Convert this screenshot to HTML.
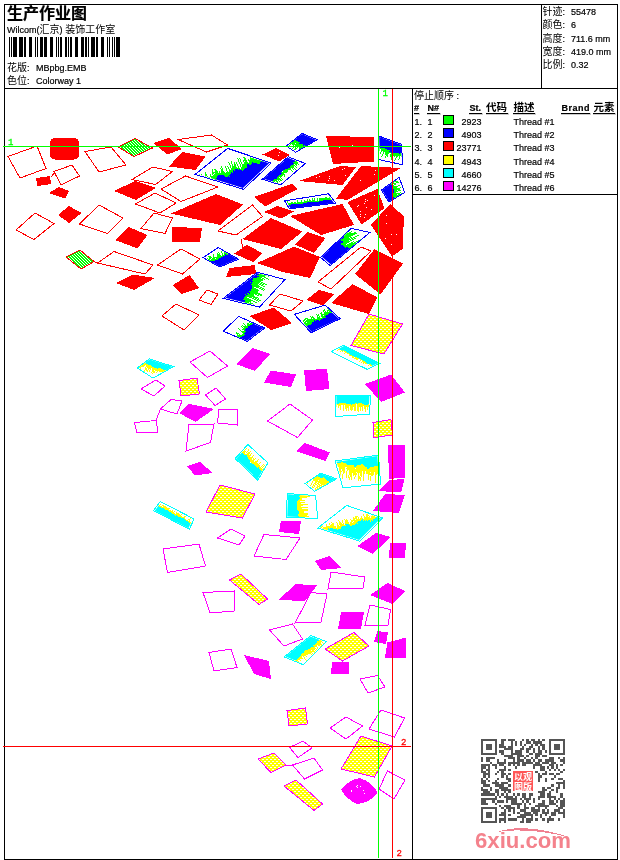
<!DOCTYPE html>
<html lang="zh"><head><meta charset="utf-8"><title>生产作业图</title>
<style>
html,body{margin:0;padding:0;background:#fff}
body{width:620px;height:860px;position:relative;overflow:hidden}
.ln{position:absolute;background:#000}
svg{position:absolute;left:0;top:0;will-change:transform}
svg text{white-space:pre}
</style></head><body>
<div class="ln" style="left:4px;top:4px;width:614px;height:1px"></div>
<div class="ln" style="left:4px;top:859px;width:614px;height:1px"></div>
<div class="ln" style="left:4px;top:4px;width:1px;height:856px"></div>
<div class="ln" style="left:617px;top:4px;width:1px;height:856px"></div>
<div class="ln" style="left:4px;top:88px;width:614px;height:1px"></div>
<div class="ln" style="left:412px;top:88px;width:1px;height:771px"></div>
<div class="ln" style="left:541px;top:4px;width:1px;height:85px"></div>
<div class="ln" style="left:412px;top:194px;width:206px;height:1px"></div>
<svg width="620" height="860" viewBox="0 0 620 860" shape-rendering="crispEdges">
<defs><pattern id="hy" width="4" height="4" patternUnits="userSpaceOnUse"><rect width="4" height="4" fill="#ffff00"/><rect x="0" y="1" width="2" height="1" fill="#fff"/><rect x="2" y="3" width="2" height="1" fill="#fff"/></pattern><pattern id="hg" width="3" height="3" patternUnits="userSpaceOnUse"><rect width="3" height="3" fill="#00ff00"/><rect x="0" y="0" width="1" height="1" fill="#fff"/><rect x="1" y="1" width="1" height="1" fill="#fff"/><rect x="2" y="2" width="1" height="1" fill="#fff"/></pattern></defs>
<polygon points="36,178 50,176 51,184 37.5,186" fill="#ff0000"/>
<polygon points="49,193 59,187 69,191 65,198.5" fill="#ff0000"/>
<polygon points="58,215 69,206 81.5,213 69,223" fill="#ff0000"/>
<polygon points="114,191 135,181 156,188 136,200" fill="#ff0000"/>
<polygon points="115,240 129,227 147.5,235 137.5,248.5" fill="#ff0000"/>
<polygon points="116,283 132.5,274.5 155,278 134,290" fill="#ff0000"/>
<polygon points="153,143 169,138 182,149 167.5,154.5" fill="#ff0000"/>
<polygon points="169,166.5 182,152 205.5,156.5 195.5,170" fill="#ff0000"/>
<polygon points="171,213.5 216,194 243,204.5 220,225" fill="#ff0000"/>
<polygon points="172.5,227 202,228 200,242 172,241.5" fill="#ff0000"/>
<polygon points="254,197 292.5,183.5 297.5,189 265,206.5" fill="#ff0000"/>
<polygon points="264,212 277.5,206 294,211.5 281,218.5" fill="#ff0000"/>
<polygon points="242.5,239 271,218 302.5,231.5 281,249" fill="#ff0000"/>
<polygon points="234,253.5 247.5,245 262,253 253,262" fill="#ff0000"/>
<polygon points="226,277 229.5,268 255,265 256,274" fill="#ff0000"/>
<polygon points="173,285 189.5,275 199,288 181,294" fill="#ff0000"/>
<polygon points="257,263 294,246.5 320,257 310,278 281,271.5" fill="#ff0000"/>
<polygon points="262.5,154.5 276,148 290,155 279,161.5" fill="#ff0000"/>
<polygon points="326,136 374,137 374.5,161.5 333,164" fill="#ff0000"/>
<polygon points="299,181 340,166 356,167 342.5,185" fill="#ff0000"/>
<polygon points="336,198.5 361,166 401,168 347.5,200" fill="#ff0000"/>
<polygon points="290,216 342.5,204 354,225 321,235" fill="#ff0000"/>
<polygon points="347.5,202 377.5,189 384.3,208.5 361.5,224.5" fill="#ff0000"/>
<polygon points="371,225 390,204 404,216.5 402.5,249 392,256.5" fill="#ff0000"/>
<polygon points="295,244.5 307.5,232 325.5,238 314,253" fill="#ff0000"/>
<polygon points="355,274 374.5,249 403,263.5 380.5,294.5" fill="#ff0000"/>
<polygon points="306,300 319,290 334,294 323.5,305.5" fill="#ff0000"/>
<polygon points="331,303 352.5,284 377.5,297.5 369,314" fill="#ff0000"/>
<polygon points="249.5,316 274,307.5 292,323 271,330" fill="#ff0000"/>
<polygon points="236,364 252.5,348 270,354 255,371" fill="#ff00ff"/>
<polygon points="264,382.5 271,370.5 296,374.5 291,387" fill="#ff00ff"/>
<polygon points="179,413 189,404 214,409 195.5,422" fill="#ff00ff"/>
<polygon points="187,466 200,462 213,473 195,475.5" fill="#ff00ff"/>
<polygon points="304,370 327,369 329.5,389 306,391" fill="#ff00ff"/>
<polygon points="365,384 391,374.5 405,392.5 381,402" fill="#ff00ff"/>
<polygon points="296,451 305,443 330,452.5 325.5,461" fill="#ff00ff"/>
<polygon points="388,445 405,445 405,477.5 389,479" fill="#ff00ff"/>
<polygon points="244,655 269,661 271,679 254,674" fill="#ff00ff"/>
<polygon points="379,491 389,480 404.5,479 401,492.5" fill="#ff00ff"/>
<polygon points="373,511 385,494 405,495 399,513" fill="#ff00ff"/>
<polygon points="279,532 281,520.5 301,521 299,534" fill="#ff00ff"/>
<polygon points="357.5,546 376,533 391,537 372.5,554" fill="#ff00ff"/>
<polygon points="389,557.5 390,543 406,543 405,557.5" fill="#ff00ff"/>
<polygon points="315,561 329.5,556 342,568 321,570" fill="#ff00ff"/>
<polygon points="278,600 296,584 317,585.5 305,601" fill="#ff00ff"/>
<polygon points="370,595 387.5,583 405,591 392.5,604" fill="#ff00ff"/>
<polygon points="338,629 341,612.5 364,612 361,629" fill="#ff00ff"/>
<polygon points="374,642 377.5,631 388,632.5 386,644" fill="#ff00ff"/>
<polygon points="385,657.5 387.5,642.5 406,637.5 406,657.5" fill="#ff00ff"/>
<polygon points="331,674 332,662 349.5,662 349,674" fill="#ff00ff"/>
<rect x="50" y="138" width="29" height="21.5" rx="5" ry="5" fill="#ff0000"/>
<path d="M341,789.5 Q350,779 360,778 Q372,782 377.5,792.5 Q370,803 357.5,804 Q347,800 341,789.5Z" fill="#ff00ff"/>
<polygon points="118,147 135,138.5 152.5,148 134,156.5" fill="url(#hg)" stroke="#ff0000" stroke-width="1"/>
<polygon points="66,257 80,250 94,261.5 81,269" fill="url(#hg)" stroke="#ff0000" stroke-width="1"/>
<polygon points="179,380.5 197,378 199.5,394 181,396" fill="url(#hy)" stroke="#ff00ff" stroke-width="1"/>
<polygon points="351,345.5 369,314 402.5,324 384,354" fill="url(#hy)" stroke="#ff00ff" stroke-width="1"/>
<polygon points="373,422.5 391,419.5 392.5,435 374,437.5" fill="url(#hy)" stroke="#ff00ff" stroke-width="1"/>
<polygon points="206,512 220,485 255,494 242.5,518" fill="url(#hy)" stroke="#ff00ff" stroke-width="1"/>
<polygon points="229.5,580 241,574 267.5,599 259,604.5" fill="url(#hy)" stroke="#ff00ff" stroke-width="1"/>
<polygon points="325,649 354,632.5 369,646 342.5,661" fill="url(#hy)" stroke="#ff00ff" stroke-width="1"/>
<polygon points="287,710.5 305.5,708 307.5,724 289,726" fill="url(#hy)" stroke="#ff00ff" stroke-width="1"/>
<polygon points="341,769 361,736 392,746 374.5,777" fill="url(#hy)" stroke="#ff00ff" stroke-width="1"/>
<polygon points="258,759 274,753 286,765 271,772.5" fill="url(#hy)" stroke="#ff00ff" stroke-width="1"/>
<polygon points="284,786 296,780 322.5,804 314,810.5" fill="url(#hy)" stroke="#ff00ff" stroke-width="1"/>
<clipPath id="c0"><polygon points="197.553,174.062 228.103,149.623 269.088,163.346 242.956,188.069"/></clipPath>
<g clip-path="url(#c0)" fill="none"><path d="M266.6,152.9L267.6,155.5M262.7,149.8L264.0,152.9M260.1,149.8L262.5,155.6M259.5,151.5L261.8,157.3M259.4,154.6L261.9,160.7M256.8,151.3L260.2,159.7M257.4,156.0L258.2,157.9M255.0,156.5L257.4,162.3M251.9,155.4L253.6,159.4M249.0,154.6L250.7,158.8M248.2,158.9L249.8,162.9M244.8,157.0L246.0,160.0M243.4,156.8L245.3,161.6M243.5,160.3L245.1,164.2M239.8,157.5L242.9,165.3M237.5,158.2L241.6,168.4M236.4,162.1L238.5,167.2M234.0,162.4L234.7,164.3M230.9,161.2L232.7,165.8M228.8,162.4L232.1,170.7M227.5,165.8L229.9,171.6M225.1,166.2L227.7,172.7M224.6,171.5L225.2,172.9M221.0,165.7L224.4,174.2M220.6,167.9L221.9,171.3M219.3,171.3L220.3,173.8M215.6,168.6L216.3,170.2M214.6,169.2L216.4,173.7M214.3,171.7L215.9,175.7M212.0,169.4L215.1,177.0M211.8,172.0L214.0,177.4M209.9,173.8L210.7,175.7M208.5,176.8L208.8,177.6M205.3,172.1L208.8,180.8M204.9,174.2L206.1,177.2M202.8,175.5L203.6,177.5M200.7,173.6L202.6,178.2M199.7,174.4L201.4,178.4M198.3,177.2L199.2,179.5M196.1,175.1L198.2,180.1" stroke="#00ff00" stroke-width="0.97"/><path d="M267.6,155.5L268.3,157.1M266.1,154.9L266.7,156.5M264.0,152.9L265.2,156.0M263.0,153.8L264.2,156.8M262.5,155.6L263.4,157.9M261.8,157.3L263.3,161.0M261.9,160.7L262.5,162.2M260.2,159.7L261.0,161.6M258.2,157.9L260.1,162.5M257.7,159.9L259.2,163.8M257.4,162.3L258.0,163.9M254.7,159.0L256.3,163.0M253.6,159.4L255.1,163.1M251.8,158.2L253.6,162.8M250.7,158.8L252.2,162.5M249.8,159.8L251.5,164.1M249.8,162.9L250.5,164.7M248.5,162.8L249.2,164.8M246.0,160.0L247.6,164.0M245.3,161.6L247.3,166.4M245.1,164.2L246.6,167.9M243.6,163.7L245.5,168.4M242.9,165.3L244.6,169.3M242.1,166.4L243.7,170.4M241.6,168.4L242.6,170.9M240.6,169.0L241.1,170.5M238.5,167.2L239.2,169.0M237.7,168.4L238.4,170.2M234.7,164.3L236.7,169.1M234.0,165.8L235.5,169.3M232.7,165.8L234.7,170.6M232.1,167.5L233.3,170.3M232.1,170.7L232.9,172.6M230.4,169.7L231.3,172.0M229.9,171.6L230.8,174.0M228.7,171.8L229.8,174.7M227.7,172.7L229.4,176.8M226.3,172.5L228.0,176.5M225.2,172.9L227.0,177.4M224.4,174.2L225.6,177.1M221.9,171.3L223.5,175.2M221.2,172.6L222.1,174.8M220.3,173.8L221.0,175.3M218.8,173.2L219.5,174.9M216.3,170.2L218.2,175.0M216.4,173.7L217.3,176.0M215.9,175.7L216.6,177.5M215.1,177.0L216.4,180.2M214.0,177.4L214.7,179.2M212.1,176.0L214.0,180.6M210.7,175.7L212.8,180.9M210.4,178.2L211.8,181.7M208.8,177.6L211.0,182.8M208.8,180.8L209.8,183.2M206.1,177.2L207.9,181.6M206.0,180.2L207.1,182.9M203.6,177.5L205.8,182.8M202.6,178.2L204.5,182.9M201.4,178.4L202.8,181.8M201.0,180.6L201.6,182.1M199.2,179.5L200.9,183.6M198.2,180.1L200.2,185.2" stroke="#00ff00" stroke-width="1.57"/><path d="M268.3,157.1L276.3,177.0M266.7,156.5L275.2,177.4M265.2,156.0L274.1,177.9M264.2,156.8L272.9,178.3M263.4,157.9L271.8,178.8M263.3,161.0L270.7,179.2M262.5,162.2L269.6,179.7M261.0,161.6L268.5,180.1M260.1,162.5L267.4,180.6M259.2,163.8L266.2,181.0M258.0,163.9L265.1,181.5M256.3,163.0L264.0,182.0M255.1,163.1L262.9,182.4M253.6,162.8L261.8,182.9M252.2,162.5L260.6,183.3M251.5,164.1L259.5,183.8M250.5,164.7L258.4,184.2M249.2,164.8L257.3,184.7M247.6,164.0L256.2,185.1M247.3,166.4L255.0,185.6M246.6,167.9L253.9,186.0M245.5,168.4L252.8,186.5M244.6,169.3L251.7,186.9M243.7,170.4L250.6,187.4M242.6,170.9L249.5,187.8M241.1,170.5L248.3,188.3M239.2,169.0L247.2,188.7M238.4,170.2L246.1,189.2M236.7,169.1L245.0,189.6M235.5,169.3L243.9,190.1M234.7,170.6L242.7,190.6M233.3,170.3L241.6,191.0M232.9,172.6L240.5,191.5M231.3,172.0L239.4,191.9M230.8,174.0L238.3,192.4M229.8,174.7L237.1,192.8M229.4,176.8L236.0,193.3M228.0,176.5L234.9,193.7M227.0,177.4L233.8,194.2M225.6,177.1L232.7,194.6M223.5,175.2L231.6,195.1M222.1,174.8L230.4,195.5M221.0,175.3L229.3,196.0M219.5,174.9L228.2,196.4M218.2,175.0L227.1,196.9M217.3,176.0L226.0,197.3M216.6,177.5L224.8,197.8M216.4,180.2L223.7,198.2M214.7,179.2L222.6,198.7M214.0,180.6L221.5,199.2M212.8,180.9L220.4,199.6M211.8,181.7L219.2,200.1M211.0,182.8L218.1,200.5M209.8,183.2L217.0,201.0M207.9,181.6L215.9,201.4M207.1,182.9L214.8,201.9M205.8,182.8L213.7,202.3M204.5,182.9L212.5,202.8M202.8,181.8L211.4,203.2M201.6,182.1L210.3,203.7M200.9,183.6L209.2,204.1M200.2,185.2L208.1,204.6" stroke="#0000ff" stroke-width="1.57"/></g>
<polygon points="195.2,174.4 227.7,148.4 271.3,163 243.5,189.3" fill="none" stroke="#0000ff" stroke-width="1"/>
<clipPath id="c1"><polygon points="287.142,145.811 301.899,133.967 316.281,139.889 295.977,151.733"/></clipPath>
<g clip-path="url(#c1)" fill="none"><path d="M286.5,147.1L288.8,141.6M289.3,147.0L290.8,143.4M292.6,145.4L293.1,144.3M292.6,148.7L294.9,143.2M295.2,145.6L296.2,143.2M294.9,149.7L297.3,143.9M296.6,148.8L297.9,145.8M298.2,151.6L300.7,145.6M299.4,151.9L301.1,147.8M301.5,150.2L302.8,147.1M303.4,152.1L305.0,148.3M304.0,153.8L306.5,147.9M306.4,151.4L307.5,148.7M309.3,150.9L310.2,148.9M310.7,154.1L312.3,150.3" stroke="#00ff00" stroke-width="1.00"/><path d="M288.8,141.6L289.5,139.8M290.0,141.9L290.7,140.1M290.8,143.4L292.4,139.5M292.0,143.7L293.5,140.0M293.1,144.3L294.8,140.2M294.9,143.2L296.0,140.5M296.2,143.2L297.2,141.0M297.3,143.9L298.3,141.5M297.9,145.8L299.3,142.3M299.3,145.6L300.0,144.0M300.7,145.6L301.3,144.0M301.1,147.8L302.5,144.5M302.8,147.1L303.4,145.5M303.4,148.7L304.8,145.5M305.0,148.3L306.0,145.8M306.5,147.9L307.2,146.1M307.5,148.7L308.3,146.8M308.5,149.5L309.6,147.0M310.2,148.9L311.1,146.6M310.4,151.4L312.1,147.3M312.3,150.3L313.4,147.5" stroke="#00ff00" stroke-width="1.63"/><path d="M289.5,139.8L293.7,129.6M290.7,140.1L294.9,130.0M292.4,139.5L296.0,130.5M293.5,140.0L297.2,131.0M294.8,140.2L298.4,131.5M296.0,140.5L299.5,131.9M297.2,141.0L300.7,132.4M298.3,141.5L301.8,132.9M299.3,142.3L303.0,133.4M300.0,144.0L304.1,133.9M301.3,144.0L305.3,134.3M302.5,144.5L306.5,134.8M303.4,145.5L307.6,135.3M304.8,145.5L308.8,135.8M306.0,145.8L309.9,136.2M307.2,146.1L311.1,136.7M308.3,146.8L312.2,137.2M309.6,147.0L313.4,137.7M311.1,146.6L314.6,138.1M312.1,147.3L315.7,138.6M313.4,147.5L316.9,139.1" stroke="#0000ff" stroke-width="1.63"/></g>
<polygon points="286.3,146 302,133.4 317.3,139.7 295.7,152.3" fill="none" stroke="#0000ff" stroke-width="1"/>
<clipPath id="c2"><polygon points="263.607,178.81 287.859,157.66 304.026,163.958 280.809,184.073"/></clipPath>
<g clip-path="url(#c2)" fill="none"><path d="M271.4,188.9L269.7,186.8M272.3,186.2L271.4,185.1M274.8,185.3L271.9,182.0M277.4,184.6L275.0,181.8M278.3,183.7L275.7,180.7M279.0,182.7L277.1,180.5M280.1,182.1L278.3,179.9M280.7,180.9L279.2,179.2M282.2,180.7L279.4,177.5M282.7,179.5L281.2,177.7M282.5,175.5L281.8,174.7M285.6,177.2L283.6,174.9M285.0,174.7L284.0,173.5M286.7,172.9L285.3,171.2M288.8,171.6L287.9,170.5M292.2,171.7L290.4,169.7M293.7,169.7L291.3,167.0M295.3,169.8L293.6,167.7M294.0,166.3L293.2,165.4M296.8,167.7L294.1,164.6M297.1,166.2L295.6,164.4M298.8,164.5L296.0,161.2M299.2,161.2L298.6,160.4M302.5,163.0L300.5,160.8M301.1,159.6L300.4,158.8" stroke="#00ff00" stroke-width="0.98"/><path d="M269.7,186.8L268.4,185.3M271.0,186.5L269.1,184.3M271.4,185.1L269.6,183.0M272.0,183.9L270.6,182.3M271.9,182.0L271.2,181.1M273.6,182.0L272.6,180.9M275.0,181.8L273.5,180.0M275.7,180.7L274.3,179.2M277.1,180.5L275.7,178.9M278.3,179.9L276.8,178.3M279.2,179.2L277.5,177.2M279.4,177.5L278.4,176.3M281.2,177.7L279.2,175.4M281.8,176.5L280.5,175.0M281.8,174.7L281.1,173.9M283.6,174.9L281.5,172.5M284.0,173.5L282.4,171.6M285.3,173.1L283.1,170.6M285.3,171.2L284.0,169.8M287.0,171.3L285.0,169.1M287.9,170.5L286.5,168.9M288.8,169.7L287.7,168.5M290.4,169.7L288.9,168.0M291.1,168.6L290.0,167.3M291.3,167.0L290.7,166.2M293.6,167.7L291.4,165.2M293.2,165.4L292.5,164.7M294.1,164.6L293.3,163.7M295.6,164.4L293.6,162.2M297.0,164.2L294.9,161.7M296.0,161.2L295.3,160.4M297.4,161.0L296.2,159.5M298.6,160.4L296.9,158.6M300.5,160.8L298.5,158.5M300.4,158.8L299.1,157.3" stroke="#00ff00" stroke-width="1.59"/><path d="M268.4,185.3L262.5,178.6M269.1,184.3L263.4,177.8M269.6,183.0L264.4,177.0M270.6,182.3L265.3,176.2M271.2,181.1L266.2,175.4M272.6,180.9L267.1,174.6M273.5,180.0L268.1,173.8M274.3,179.2L269.0,173.0M275.7,178.9L269.9,172.2M276.8,178.3L270.8,171.4M277.5,177.2L271.7,170.6M278.4,176.3L272.7,169.8M279.2,175.4L273.6,169.0M280.5,175.0L274.5,168.2M281.1,173.9L275.4,167.4M281.5,172.5L276.4,166.6M282.4,171.6L277.3,165.8M283.1,170.6L278.2,165.0M284.0,169.8L279.1,164.2M285.0,169.1L280.1,163.4M286.5,168.9L281.0,162.6M287.7,168.5L281.9,161.8M288.9,168.0L282.8,161.0M290.0,167.3L283.7,160.2M290.7,166.2L284.7,159.4M291.4,165.2L285.6,158.5M292.5,164.7L286.5,157.7M293.3,163.7L287.4,156.9M293.6,162.2L288.4,156.1M294.9,161.7L289.3,155.3M295.3,160.4L290.2,154.5M296.2,159.5L291.1,153.7M296.9,158.6L292.1,152.9M298.5,158.5L293.0,152.1M299.1,157.3L293.9,151.3" stroke="#0000ff" stroke-width="1.59"/></g>
<polygon points="262.3,179.3 288.1,156.8 305.3,163.5 280.6,184.9" fill="none" stroke="#0000ff" stroke-width="1"/>
<clipPath id="c3"><polygon points="379.216,136.815 400.93,144.711 401.87,163.981 379.685,159.093"/></clipPath>
<g clip-path="url(#c3)" fill="none"><path d="M373.4,151.8L374.9,147.6M376.5,150.3L377.0,148.8M377.5,154.5L379.0,150.4M380.4,153.5L381.1,151.6M381.9,156.7L383.5,152.2M384.9,155.4L386.0,152.3M385.2,158.0L386.8,153.7M386.7,157.4L388.4,152.7M390.3,154.7L390.7,153.5M391.0,159.7L392.8,154.6M394.5,157.1L395.2,155.2M394.3,161.2L396.4,155.5M396.8,157.8L397.9,154.8M398.6,160.0L400.2,155.4M401.9,157.8L402.6,156.0M402.6,163.0L403.8,159.7" stroke="#00ff00" stroke-width="0.96"/><path d="M374.9,147.6L375.6,145.6M375.9,148.5L376.5,146.7M377.0,148.8L377.5,147.5M378.0,149.6L378.8,147.6M379.0,150.4L380.0,147.7M380.9,148.8L381.3,147.7M381.1,151.6L382.4,148.1M382.7,150.7L383.7,148.0M383.5,152.2L384.9,148.4M384.8,152.2L386.2,148.4M386.0,152.3L387.2,148.9M386.8,153.7L388.2,149.8M388.4,152.7L389.3,150.2M389.5,153.3L390.0,151.7M390.7,153.5L391.4,151.6M390.8,156.8L392.2,152.9M392.8,154.6L393.6,152.6M393.7,155.9L394.6,153.3M395.2,155.2L395.9,153.2M396.4,155.5L397.4,152.6M397.9,154.8L398.7,152.7M398.6,156.3L399.5,154.0M400.2,155.4L400.9,153.6M401.1,156.7L401.8,154.7M402.6,156.0L403.0,154.8M403.3,157.5L404.0,155.6M403.8,159.7L405.1,156.1" stroke="#00ff00" stroke-width="1.56"/><path d="M375.6,145.6L379.2,135.7M376.5,146.7L380.3,136.1M377.5,147.5L381.5,136.5M378.8,147.6L382.6,136.9M380.0,147.7L383.7,137.3M381.3,147.7L384.9,137.7M382.4,148.1L386.0,138.1M383.7,148.0L387.1,138.6M384.9,148.4L388.3,139.0M386.2,148.4L389.4,139.4M387.2,148.9L390.5,139.8M388.2,149.8L391.7,140.2M389.3,150.2L392.8,140.6M390.0,151.7L393.9,141.0M391.4,151.6L395.1,141.4M392.2,152.9L396.2,141.8M393.6,152.6L397.3,142.2M394.6,153.3L398.5,142.6M395.9,153.2L399.6,143.1M397.4,152.6L400.7,143.5M398.7,152.7L401.9,143.9M399.5,154.0L403.0,144.3M400.9,153.6L404.1,144.7M401.8,154.7L405.2,145.1M403.0,154.8L406.4,145.5M404.0,155.6L407.5,145.9M405.1,156.1L408.6,146.3" stroke="#0000ff" stroke-width="1.56"/></g>
<polygon points="378.5,135.9 401.6,144.3 402.6,164.8 379,159.6" fill="none" stroke="#0000ff" stroke-width="1"/>
<clipPath id="c4"><polygon points="286.097,200.945 327.457,194.271 334.037,202.919 290.609,208.465"/></clipPath>
<g clip-path="url(#c4)" fill="none"><path d="M334.0,195.8L334.4,198.6M331.6,196.2L332.0,199.2M330.3,196.0L330.7,198.4M329.2,196.4L329.5,199.1M326.7,196.5L327.0,198.5M325.5,196.5L325.7,198.3M324.4,198.0L324.6,199.0M321.9,197.5L322.1,199.2M320.7,197.7L321.0,200.4M319.4,197.5L319.8,200.1M317.0,198.0L317.4,200.9M314.6,198.3L314.9,200.9M312.1,198.4L312.4,200.4M309.7,198.7L309.9,200.4M307.3,199.2L307.5,200.8M304.9,199.7L305.0,200.7M302.6,201.5L302.6,201.7M301.1,199.6L301.6,202.8M300.2,201.9L300.4,203.4M297.5,200.1L297.7,202.1M295.2,201.9L295.4,203.0M292.7,201.7L293.0,203.3M290.4,202.8L290.4,202.8M287.8,201.4L288.1,203.9M285.5,203.1L285.7,204.8" stroke="#00ff00" stroke-width="0.98"/><path d="M334.4,198.6L334.6,199.7M333.2,199.1L333.3,199.9M332.0,199.2L332.1,199.7M330.7,198.4L330.9,199.9M329.5,199.1L329.6,199.8M328.1,197.8L328.4,199.6M327.0,198.5L327.1,199.9M325.7,198.3L325.9,199.9M324.6,199.0L324.7,199.7M323.2,198.2L323.5,200.1M322.1,199.2L322.3,200.7M321.0,200.4L321.1,201.0M319.8,200.1L319.9,201.4M318.6,201.0L318.7,201.6M317.4,200.9L317.5,201.6M316.2,201.1L316.3,202.0M314.9,200.9L315.1,202.2M313.6,200.3L313.8,201.9M312.4,200.4L312.6,201.9M311.2,200.7L311.3,201.7M309.9,200.4L310.1,201.8M308.7,200.9L308.8,201.8M307.5,200.8L307.7,202.4M306.3,201.3L306.5,202.6M305.0,200.7L305.2,202.6M303.9,201.5L304.1,203.5M302.6,201.7L302.9,203.5M301.6,202.8L301.7,203.8M300.4,203.4L300.5,204.2M299.0,202.5L299.2,203.9M297.7,202.1L298.0,203.9M296.6,202.7L296.8,204.3M295.4,203.0L295.6,204.3M294.1,202.5L294.3,203.8M293.0,203.3L293.1,204.0M291.6,202.3L291.8,204.2M290.4,202.8L290.7,204.7M289.3,203.4L289.5,205.0M288.1,203.9L288.2,205.0M286.9,204.3L287.1,205.7M285.7,204.8L285.9,205.7" stroke="#00ff00" stroke-width="1.59"/><path d="M334.6,199.7L335.0,203.3M333.3,199.9L333.8,203.4M332.1,199.7L332.6,203.6M330.9,199.9L331.4,203.8M329.6,199.8L330.2,203.9M328.4,199.6L328.9,204.1M327.1,199.9L327.7,204.2M325.9,199.9L326.5,204.4M324.7,199.7L325.3,204.6M323.5,200.1L324.1,204.7M322.3,200.7L322.9,204.9M321.1,201.0L321.6,205.0M319.9,201.4L320.4,205.2M318.7,201.6L319.2,205.4M317.5,201.6L318.0,205.5M316.3,202.0L316.8,205.7M315.1,202.2L315.6,205.8M313.8,201.9L314.3,206.0M312.6,201.9L313.1,206.2M311.3,201.7L311.9,206.3M310.1,201.8L310.7,206.5M308.8,201.8L309.5,206.6M307.7,202.4L308.3,206.8M306.5,202.6L307.0,207.0M305.2,202.6L305.8,207.1M304.1,203.5L304.6,207.3M302.9,203.5L303.4,207.4M301.7,203.8L302.2,207.6M300.5,204.2L301.0,207.8M299.2,203.9L299.7,207.9M298.0,203.9L298.5,208.1M296.8,204.3L297.3,208.2M295.6,204.3L296.1,208.4M294.3,203.8L294.9,208.5M293.1,204.0L293.7,208.7M291.8,204.2L292.5,208.9M290.7,204.7L291.2,209.0M289.5,205.0L290.0,209.2M288.2,205.0L288.8,209.3M287.1,205.7L287.6,209.5M285.9,205.7L286.4,209.7" stroke="#0000ff" stroke-width="1.59"/></g>
<polygon points="284.6,200.9 328.6,193.8 335.6,203 289.4,208.9" fill="none" stroke="#0000ff" stroke-width="1"/>
<clipPath id="c5"><polygon points="382.034,190.03 398.766,178.186 404.029,192.38 389.272,201.404"/></clipPath>
<g clip-path="url(#c5)" fill="none"><path d="M398.5,198.5L396.7,199.0M403.0,195.8L396.8,197.8M400.8,195.2L396.7,196.5M402.4,193.5L396.9,195.2M400.9,192.6L397.2,193.8M400.7,190.2L397.1,191.3M399.6,189.2L395.0,190.7M400.5,187.7L396.4,189.0M399.9,185.4L396.2,186.5M395.5,184.2L393.6,184.8M398.5,182.0L392.5,183.9M398.1,180.9L391.9,182.8M394.7,179.4L391.3,180.5" stroke="#00ff00" stroke-width="0.97"/><path d="M396.7,199.0L394.7,199.7M396.8,197.8L394.8,198.4M396.7,196.5L394.4,197.2M396.9,195.2L393.2,196.3M397.2,193.8L393.0,195.1M394.5,193.4L393.2,193.8M397.1,191.3L393.6,192.4M395.0,190.7L393.7,191.1M396.4,189.0L393.8,189.8M396.8,187.6L393.4,188.7M396.2,186.5L393.0,187.6M394.4,185.8L392.1,186.6M393.6,184.8L391.9,185.4M392.5,183.9L390.7,184.5M391.9,182.8L389.4,183.6M391.2,181.8L389.8,182.2M391.3,180.5L389.4,181.1" stroke="#00ff00" stroke-width="1.57"/><path d="M394.7,199.7L384.9,202.8M394.8,198.4L384.5,201.6M394.4,197.2L384.2,200.5M393.2,196.3L383.8,199.3M393.0,195.1L383.4,198.2M393.2,193.8L383.1,197.0M393.6,192.4L382.7,195.9M393.7,191.1L382.3,194.7M393.8,189.8L382.0,193.6M393.4,188.7L381.6,192.4M393.0,187.6L381.2,191.3M392.1,186.6L380.9,190.1M391.9,185.4L380.5,189.0M390.7,184.5L380.2,187.8M389.4,183.6L379.8,186.7M389.8,182.2L379.4,185.5M389.4,181.1L379.1,184.4" stroke="#0000ff" stroke-width="1.57"/></g>
<polygon points="381.3,190 399.1,177.4 404.7,192.5 389,202.1" fill="none" stroke="#0000ff" stroke-width="1"/>
<clipPath id="c6"><polygon points="321.847,256.713 350.611,229.453 368.377,233.213 330.965,264.421"/></clipPath>
<g clip-path="url(#c6)" fill="none"><path d="M364.0,247.8L356.2,251.7M360.5,246.8L353.7,250.2M362.4,243.0L357.5,245.5M360.7,241.1L356.5,243.2M361.7,239.2L347.6,246.3M353.8,241.8L352.5,242.4M356.1,237.8L349.2,241.3M359.4,234.7L344.6,242.2M351.7,237.2L348.6,238.8M357.3,233.0L347.7,237.8M356.3,232.1L346.8,236.9M352.2,231.4L348.0,233.5M353.9,227.7L344.4,232.5" stroke="#00ff00" stroke-width="1.00"/><path d="M356.2,251.7L349.0,255.4M356.4,250.2L350.7,253.1M353.7,250.2L351.1,251.5M352.1,249.6L349.1,251.2M357.5,245.5L349.5,249.5M353.6,246.1L349.7,248.0M356.5,243.2L347.9,247.5M347.6,246.3L345.2,247.5M352.5,242.4L344.3,246.6M345.6,244.5L343.4,245.6M349.2,241.3L341.4,245.2M344.6,242.2L340.7,244.2M348.6,238.8L342.9,241.7M347.7,237.8L340.7,241.4M346.8,236.9L341.5,239.6M351.4,233.1L344.0,236.9M348.0,233.5L341.5,236.8M347.6,232.3L343.7,234.3M344.4,232.5L341.4,234.0" stroke="#00ff00" stroke-width="1.63"/><path d="M349.0,255.4L324.5,267.8M350.7,253.1L323.9,266.7M351.1,251.5L323.4,265.5M349.1,251.2L322.8,264.4M349.5,249.5L322.2,263.3M349.7,248.0L321.7,262.2M347.9,247.5L321.1,261.1M345.2,247.5L320.6,260.0M344.3,246.6L320.0,258.8M343.4,245.6L319.4,257.7M341.4,245.2L318.9,256.6M340.7,244.2L318.3,255.5M342.9,241.7L317.7,254.4M340.7,241.4L317.2,253.3M341.5,239.6L316.6,252.2M344.0,236.9L316.0,251.0M341.5,236.8L315.5,249.9M343.7,234.3L314.9,248.8M341.4,234.0L314.3,247.7" stroke="#0000ff" stroke-width="1.63"/></g>
<polygon points="320.5,257.4 351.1,228.4 370,232.4 330.2,265.6" fill="none" stroke="#0000ff" stroke-width="1"/>
<clipPath id="c7"><polygon points="204.108,257.71 218.302,248.216 237.478,259.12 219.712,266.452"/></clipPath>
<g clip-path="url(#c7)" fill="none"><path d="M232.7,247.4L234.1,250.6M230.5,248.6L231.3,250.3M229.1,248.5L230.8,252.2M228.3,249.5L228.8,250.7M226.8,249.2L228.6,253.2M225.9,250.2L227.1,252.8M223.9,251.7L224.4,252.9M221.0,251.2L222.4,254.4M218.8,252.3L220.5,256.1M217.6,252.7L218.7,255.2M217.0,254.4L218.4,257.5M215.7,257.3L216.4,258.9M213.0,254.3L215.3,259.4M213.0,257.4L213.3,258.0M210.8,255.5L212.1,258.3M209.7,255.9L211.5,260.0M208.6,256.4L210.6,261.0M207.7,257.5L208.9,260.2M205.6,258.9L206.1,259.9" stroke="#00ff00" stroke-width="0.98"/><path d="M234.1,250.6L234.9,252.3M233.5,252.1L233.8,252.9M231.3,250.3L232.6,253.3M230.8,252.2L231.7,254.1M228.8,250.7L230.1,253.7M228.6,253.2L228.9,254.0M227.1,252.8L227.8,254.6M225.3,251.9L226.6,254.8M224.4,252.9L225.1,254.5M223.8,254.4L224.3,255.7M222.4,254.4L223.3,256.3M221.7,255.8L222.4,257.3M220.5,256.1L221.0,257.3M218.7,255.2L220.1,258.2M218.4,257.5L219.0,258.8M216.9,257.0L218.2,260.0M216.4,258.9L216.9,260.2M215.3,259.4L215.7,260.3M213.3,258.0L214.5,260.8M212.1,258.3L213.4,261.4M211.5,260.0L212.0,261.2M210.6,261.0L211.0,261.9M208.9,260.2L209.6,261.8M208.1,261.3L208.4,262.1M206.1,259.9L207.4,262.9M206.1,263.0L206.7,264.3" stroke="#00ff00" stroke-width="1.59"/><path d="M234.9,252.3L238.2,259.8M233.8,252.9L237.1,260.3M232.6,253.3L236.0,260.8M231.7,254.1L234.8,261.3M230.1,253.7L233.7,261.8M228.9,254.0L232.6,262.3M227.8,254.6L231.5,262.8M226.6,254.8L230.4,263.3M225.1,254.5L229.2,263.8M224.3,255.7L228.1,264.3M223.3,256.3L227.0,264.8M222.4,257.3L225.9,265.3M221.0,257.3L224.8,265.8M220.1,258.2L223.7,266.3M219.0,258.8L222.5,266.8M218.2,260.0L221.4,267.3M216.9,260.2L220.3,267.7M215.7,260.3L219.2,268.2M214.5,260.8L218.1,268.7M213.4,261.4L216.9,269.2M212.0,261.2L215.8,269.7M211.0,261.9L214.7,270.2M209.6,261.8L213.6,270.7M208.4,262.1L212.5,271.2M207.4,262.9L211.3,271.7M206.7,264.3L210.2,272.2" stroke="#0000ff" stroke-width="1.59"/></g>
<polygon points="203.1,257.7 218.2,247.6 238.6,259.2 219.7,267" fill="none" stroke="#0000ff" stroke-width="1"/>
<clipPath id="c8"><polygon points="225.184,297.856 257.332,273.322 283.276,280.089 259.306,306.034"/></clipPath>
<g clip-path="url(#c8)" fill="none"><path d="M254.3,312.6L246.4,308.8M255.9,310.7L248.7,307.2M256.4,309.5L249.4,306.2M255.9,308.0L245.3,302.9M253.5,304.1L249.6,302.3M257.1,303.2L250.3,299.9M258.8,301.3L249.9,297.0M260.7,300.8L251.2,296.3M258.8,298.6L254.0,296.3M259.0,296.0L252.1,292.7M262.3,296.2L256.7,293.6M262.3,294.9L254.7,291.3M259.4,290.8L257.9,290.1M263.5,290.1L258.4,287.6M265.3,289.6L252.9,283.7M259.1,285.3L256.8,284.2M265.0,286.8L255.2,282.1M263.9,284.9L258.2,282.2M266.8,284.9L258.8,281.1M261.1,280.9L258.1,279.4M264.7,279.9L261.5,278.4M268.6,279.1L266.2,277.9M269.2,276.7L259.6,272.1M272.5,275.5L262.7,270.9" stroke="#00ff00" stroke-width="0.97"/><path d="M246.4,308.8L242.2,306.8M247.6,308.1L243.8,306.2M248.7,307.2L244.9,305.4M249.4,306.2L245.3,304.3M245.3,302.9L243.3,301.9M251.6,304.6L244.8,301.3M249.6,302.3L242.9,299.1M251.2,301.7L244.2,298.3M250.3,299.9L244.6,297.2M247.1,297.0L245.3,296.2M249.9,297.0L244.6,294.5M251.2,296.3L248.2,294.9M254.0,296.3L247.0,293.0M254.2,295.0L250.1,293.1M252.1,292.7L249.3,291.4M256.7,293.6L250.5,290.6M254.7,291.3L251.1,289.5M257.8,291.4L251.8,288.5M257.9,290.1L252.0,287.3M254.1,286.9L252.1,286.0M258.4,287.6L251.3,284.2M252.9,283.7L249.7,282.1M256.8,284.2L252.3,282.1M255.2,282.1L252.2,280.6M258.2,282.2L252.7,279.6M258.8,281.1L253.4,278.5M258.1,279.4L254.7,277.8M262.9,280.4L257.1,277.6M261.5,278.4L258.4,276.9M262.3,277.4L257.4,275.1M266.2,277.9L259.0,274.5M265.6,276.3L259.4,273.3M259.6,272.1L257.3,271.0M263.8,272.7L257.5,269.7M262.7,270.9L259.3,269.3M266.1,271.1L259.0,267.8" stroke="#00ff00" stroke-width="1.58"/><path d="M242.2,306.8L222.6,297.4M243.8,306.2L223.1,296.3M244.9,305.4L223.6,295.3M245.3,304.3L224.2,294.2M243.3,301.9L224.7,293.1M244.8,301.3L225.2,292.0M242.9,299.1L225.7,290.9M244.2,298.3L226.3,289.8M244.6,297.2L226.8,288.7M245.3,296.2L227.3,287.6M244.6,294.5L227.8,286.5M248.2,294.9L228.4,285.4M247.0,293.0L228.9,284.3M250.1,293.1L229.4,283.2M249.3,291.4L229.9,282.1M250.5,290.6L230.5,281.0M251.1,289.5L231.0,279.9M251.8,288.5L231.5,278.8M252.0,287.3L232.0,277.7M252.1,286.0L232.5,276.6M251.3,284.2L233.1,275.5M249.7,282.1L233.6,274.4M252.3,282.1L234.1,273.3M252.2,280.6L234.6,272.3M252.7,279.6L235.2,271.2M253.4,278.5L235.7,270.1M254.7,277.8L236.2,269.0M257.1,277.6L236.7,267.9M258.4,276.9L237.3,266.8M257.4,275.1L237.8,265.7M259.0,274.5L238.3,264.6M259.4,273.3L238.8,263.5M257.3,271.0L239.3,262.4M257.5,269.7L239.9,261.3M259.3,269.3L240.4,260.2M259.0,267.8L240.9,259.1" stroke="#0000ff" stroke-width="1.58"/></g>
<polygon points="223.2,298.4 257.4,272.3 285,279.5 259.5,307.1" fill="none" stroke="#0000ff" stroke-width="1"/>
<clipPath id="c9"><polygon points="224.415,331.083 238.891,317.171 263.425,328.075 247.069,340.671"/></clipPath>
<g clip-path="url(#c9)" fill="none"><path d="M249.4,315.4L252.8,318.4M247.7,317.2L251.7,320.7M248.0,319.1L251.5,322.2M249.2,321.8L250.6,323.1M247.2,323.4L247.5,323.6M243.2,323.2L246.9,326.4M241.9,325.3L244.5,327.6M241.0,326.2L244.1,328.9M241.9,328.6L244.3,330.7M238.2,328.7L243.3,333.2M241.4,334.8L241.7,335.1M235.7,331.5L239.1,334.4M236.4,333.7L239.6,336.6M236.1,336.7L237.0,337.6M232.7,337.1L235.8,339.8" stroke="#00ff00" stroke-width="0.99"/><path d="M252.8,318.4L255.5,320.8M252.3,319.6L254.8,321.8M251.7,320.7L253.8,322.6M251.5,322.2L253.1,323.6M250.6,323.1L252.0,324.2M250.2,324.3L251.4,325.4M247.5,323.6L249.7,325.6M247.4,325.1L248.6,326.2M246.9,326.4L247.8,327.2M244.7,326.2L246.7,327.9M244.5,327.6L245.6,328.6M244.1,328.9L245.5,330.1M244.3,330.7L245.7,332.0M242.8,331.1L244.5,332.6M243.3,333.2L244.9,334.6M242.7,334.3L243.9,335.4M241.7,335.1L243.4,336.6M239.1,334.4L241.8,336.8M239.6,336.6L240.4,337.2M237.1,335.9L239.9,338.4M237.0,337.6L238.6,339.0M235.5,337.8L236.8,339.1M235.8,339.8L236.8,340.7M232.9,338.9L235.8,341.4" stroke="#00ff00" stroke-width="1.62"/><path d="M255.5,320.8L264.7,328.9M254.8,321.8L263.9,329.8M253.8,322.6L263.1,330.7M253.1,323.6L262.3,331.6M252.0,324.2L261.4,332.6M251.4,325.4L260.6,333.5M249.7,325.6L259.8,334.4M248.6,326.2L259.0,335.4M247.8,327.2L258.2,336.3M246.7,327.9L257.3,337.2M245.6,328.6L256.5,338.2M245.5,330.1L255.7,339.1M245.7,332.0L254.9,340.0M244.5,332.6L254.1,341.0M244.9,334.6L253.2,341.9M243.9,335.4L252.4,342.8M243.4,336.6L251.6,343.8M241.8,336.8L250.8,344.7M240.4,337.2L250.0,345.6M239.9,338.4L249.1,346.6M238.6,339.0L248.3,347.5M236.8,339.1L247.5,348.4M236.8,340.7L246.7,349.4M235.8,341.4L245.8,350.3" stroke="#0000ff" stroke-width="1.62"/></g>
<polygon points="223.2,331.2 238.6,316.4 264.7,328 247.3,341.4" fill="none" stroke="#0000ff" stroke-width="1"/>
<clipPath id="c10"><polygon points="295.702,314.599 324.655,305.858 338.849,318.642 311.495,331.801"/></clipPath>
<g clip-path="url(#c10)" fill="none"><path d="M334.4,308.1L335.1,309.4M331.7,308.0L332.9,310.7M329.7,306.8L331.0,309.4M329.3,308.7L329.8,309.8M327.6,308.0L329.3,311.7M327.1,309.8L328.2,312.2M324.1,309.4L325.7,312.7M323.1,310.2L324.4,312.9M323.5,313.9L324.2,315.3M321.3,312.1L323.2,316.1M320.2,312.7L321.9,316.2M318.0,313.8L320.1,318.3M316.6,313.7L318.7,318.2M316.8,317.0L317.7,318.9M313.8,316.5L315.3,319.6M312.0,315.6L313.0,317.6M310.9,316.3L313.0,320.6M309.5,319.0L310.0,320.1M307.8,318.2L310.1,323.1M306.2,317.7L308.0,321.5M305.1,318.4L307.0,322.4M304.0,319.0L306.5,324.1M303.1,319.9L304.7,323.2M303.4,323.4L304.8,326.4M300.8,323.6L301.8,325.9" stroke="#00ff00" stroke-width="0.99"/><path d="M335.1,309.4L336.8,312.9M333.3,308.6L334.9,312.0M332.9,310.7L334.2,313.2M331.0,309.4L332.4,312.5M329.8,309.8L331.3,313.0M329.3,311.7L330.0,313.2M328.2,312.2L329.1,314.2M326.6,311.7L328.0,314.6M325.7,312.7L326.9,315.2M324.4,312.9L325.9,316.1M324.2,315.3L325.3,317.7M323.2,316.1L324.2,318.1M321.9,316.2L323.2,318.9M321.6,318.4L322.0,319.4M320.1,318.3L320.9,319.8M318.7,318.2L319.8,320.4M317.7,318.9L318.3,320.1M316.4,319.1L317.0,320.2M315.3,319.6L315.8,320.6M313.0,317.6L314.3,320.5M313.0,320.6L313.5,321.6M310.8,318.7L312.4,322.2M310.0,320.1L311.8,323.7M310.1,323.1L310.8,324.6M308.0,321.5L309.7,325.0M307.0,322.4L308.5,325.4M306.5,324.1L307.3,325.9M304.7,323.2L306.2,326.5M304.8,326.4L305.4,327.7M303.5,326.5L304.2,328.0M301.8,325.9L302.7,327.6M300.5,326.0L301.2,327.4" stroke="#00ff00" stroke-width="1.61"/><path d="M336.8,312.9L339.9,319.5M334.9,312.0L338.8,320.0M334.2,313.2L337.7,320.5M332.4,312.5L336.5,321.1M331.3,313.0L335.4,321.6M330.0,313.2L334.3,322.1M329.1,314.2L333.2,322.7M328.0,314.6L332.1,323.2M326.9,315.2L331.0,323.7M325.9,316.1L329.8,324.3M325.3,317.7L328.7,324.8M324.2,318.1L327.6,325.3M323.2,318.9L326.5,325.9M322.0,319.4L325.4,326.4M320.9,319.8L324.3,326.9M319.8,320.4L323.2,327.5M318.3,320.1L322.0,328.0M317.0,320.2L320.9,328.5M315.8,320.6L319.8,329.1M314.3,320.5L318.7,329.6M313.5,321.6L317.6,330.1M312.4,322.2L316.5,330.7M311.8,323.7L315.3,331.2M310.8,324.6L314.2,331.7M309.7,325.0L313.1,332.3M308.5,325.4L312.0,332.8M307.3,325.9L310.9,333.3M306.2,326.5L309.8,333.9M305.4,327.7L308.6,334.4M304.2,328.0L307.5,334.9M302.7,327.6L306.4,335.5M301.2,327.4L305.3,336.0" stroke="#0000ff" stroke-width="1.61"/></g>
<polygon points="294.3,314.4 325.1,305.1 340.2,318.7 311.1,332.7" fill="none" stroke="#0000ff" stroke-width="1"/>
<clipPath id="c11"><polygon points="138.26,367.805 149.634,359.438 172.288,366.677 153.018,377.58"/></clipPath>
<g clip-path="url(#c11)" fill="none"><path d="M137.8,368.3L139.2,363.9M138.7,369.3L139.8,366.0M140.0,369.4L140.8,366.9M143.3,367.1L143.7,365.7M144.4,371.6L146.3,365.7M145.9,371.1L147.6,365.7M146.9,371.8L148.0,368.5M149.5,371.6L150.8,367.6M151.7,372.8L152.7,369.7M152.6,373.9L154.0,369.7M154.1,373.4L155.3,369.5M156.8,372.8L157.4,371.0M159.7,371.7L160.3,369.8M160.8,376.3L162.6,370.8M163.4,376.2L164.5,372.8M166.5,374.6L167.4,371.8M169.2,374.1L169.5,373.0" stroke="#ffff00" stroke-width="0.98"/><path d="M139.2,363.9L139.6,362.4M139.8,366.0L140.6,363.5M140.8,366.9L141.9,363.3M142.1,366.8L143.2,363.2M143.7,365.7L144.6,362.9M145.2,365.0L145.8,363.2M146.3,365.7L146.9,363.7M147.6,365.7L148.0,364.2M148.0,368.5L149.0,365.1M149.1,369.0L150.3,365.1M150.8,367.6L151.4,365.7M151.8,368.4L152.3,367.0M152.7,369.7L153.5,367.2M154.0,369.7L154.5,368.0M155.3,369.5L155.6,368.5M156.2,370.7L156.9,368.6M157.4,371.0L158.3,368.3M158.8,370.7L159.5,368.3M160.3,369.8L160.9,368.1M160.9,371.9L161.9,369.0M162.6,370.8L163.3,368.6M163.3,372.7L164.2,369.8M164.5,372.8L165.4,369.9M165.7,373.1L166.7,370.0M167.4,371.8L167.7,370.6M168.1,373.5L168.7,371.8M169.5,373.0L169.9,372.0M170.6,373.7L171.1,372.3" stroke="#ffff00" stroke-width="1.59"/><path d="M139.6,362.4L141.6,356.1M140.6,363.5L142.8,356.5M141.9,363.3L144.0,356.8M143.2,363.2L145.1,357.2M144.6,362.9L146.3,357.6M145.8,363.2L147.5,357.9M146.9,363.7L148.6,358.3M148.0,364.2L149.8,358.7M149.0,365.1L150.9,359.0M150.3,365.1L152.1,359.4M151.4,365.7L153.3,359.8M152.3,367.0L154.4,360.1M153.5,367.2L155.6,360.5M154.5,368.0L156.8,360.9M155.6,368.5L157.9,361.2M156.9,368.6L159.1,361.6M158.3,368.3L160.3,362.0M159.5,368.3L161.4,362.3M160.9,368.1L162.6,362.7M161.9,369.0L163.7,363.1M163.3,368.6L164.9,363.4M164.2,369.8L166.1,363.8M165.4,369.9L167.2,364.2M166.7,370.0L168.4,364.5M167.7,370.6L169.6,364.9M168.7,371.8L170.7,365.3M169.9,372.0L171.9,365.6M171.1,372.3L173.0,366.0" stroke="#00ffff" stroke-width="1.59"/></g>
<polygon points="137.3,367.8 149.4,358.9 173.5,366.6 153,378.2" fill="none" stroke="#00ffff" stroke-width="1"/>
<clipPath id="c12"><polygon points="236.218,458.779 248.062,445.524 266.957,462.82 257.463,479.177"/></clipPath>
<g clip-path="url(#c12)" fill="none"><path d="M267.8,469.1L265.1,471.9M267.4,467.7L264.0,471.2M265.8,467.6L264.7,468.7M265.5,466.2L261.6,470.2M264.9,465.0L261.9,468.1M263.7,464.4L260.8,467.5M260.6,465.9L259.6,466.9M261.3,461.6L257.6,465.4M258.8,460.6L256.5,463.0M259.0,458.7L256.0,461.7M254.0,462.0L253.7,462.4M256.6,457.6L253.3,460.9M254.1,458.4L251.8,460.8M254.1,454.9L252.0,457.0M252.6,452.9L250.3,455.2M250.6,451.4L249.2,452.8M249.1,449.4L245.2,453.4M246.7,448.3L244.0,451.1" stroke="#ffff00" stroke-width="0.99"/><path d="M265.1,471.9L263.0,474.0M264.0,471.2L262.6,472.7M264.7,468.7L262.1,471.5M261.6,470.2L260.9,470.9M261.9,468.1L260.1,469.9M260.8,467.5L259.6,468.7M259.6,466.9L258.8,467.7M259.6,465.2L257.4,467.5M257.6,465.4L256.3,466.8M257.8,463.4L255.4,465.9M256.5,463.0L254.4,465.2M256.0,461.7L253.4,464.4M253.7,462.4L252.4,463.7M253.3,460.9L251.0,463.4M251.8,460.8L250.3,462.3M251.7,459.1L249.6,461.2M252.0,457.0L249.2,459.9M250.6,456.7L248.4,459.0M250.3,455.2L248.0,457.6M248.5,455.3L247.3,456.6M249.2,452.8L246.5,455.5M246.5,453.8L245.6,454.8M245.2,453.4L244.2,454.4M245.5,451.3L243.3,453.6M244.0,451.1L241.7,453.5M242.2,451.1L240.7,452.7" stroke="#ffff00" stroke-width="1.61"/><path d="M263.0,474.0L256.9,480.3M262.6,472.7L256.1,479.4M262.1,471.5L255.2,478.6M260.9,470.9L254.3,477.7M260.1,469.9L253.4,476.8M259.6,468.7L252.5,476.0M258.8,467.7L251.6,475.1M257.4,467.5L250.7,474.3M256.3,466.8L249.9,473.4M255.4,465.9L249.0,472.5M254.4,465.2L248.1,471.7M253.4,464.4L247.2,470.8M252.4,463.7L246.3,470.0M251.0,463.4L245.4,469.1M250.3,462.3L244.5,468.2M249.6,461.2L243.7,467.4M249.2,459.9L242.8,466.5M248.4,459.0L241.9,465.6M248.0,457.6L241.0,464.8M247.3,456.6L240.1,463.9M246.5,455.5L239.2,463.1M245.6,454.8L238.3,462.2M244.2,454.4L237.5,461.3M243.3,453.6L236.6,460.5M241.7,453.5L235.7,459.6M240.7,452.7L234.8,458.8" stroke="#00ffff" stroke-width="1.61"/></g>
<polygon points="235.2,458.6 247.8,444.5 267.9,462.9 257.8,480.3" fill="none" stroke="#00ffff" stroke-width="1"/>
<clipPath id="c13"><polygon points="332.832,351.95 343.924,346.028 378.046,363.135 366.296,368.588"/></clipPath>
<g clip-path="url(#c13)" fill="none"><path d="M333.6,348.6L334.5,346.8M334.6,349.3L335.1,348.2M336.1,348.9L336.3,348.5M337.9,350.7L338.5,349.6M340.1,351.8L340.7,350.5M342.7,352.0L343.2,351.0M344.4,354.0L345.5,351.8M346.9,354.4L347.4,353.4M348.7,356.2L349.4,354.7M351.3,356.3L351.4,356.3M351.9,357.9L352.4,357.0M353.3,357.8L353.8,356.9M354.0,359.1L354.8,357.6M355.3,359.3L356.0,357.7M356.3,359.9L356.8,358.9M357.4,360.4L358.2,358.8M359.4,361.7L360.1,360.4M361.6,362.8L362.5,361.0M362.7,363.3L363.4,361.9M363.9,363.5L364.4,362.6M365.0,364.2L365.5,363.1M366.3,364.2L366.5,363.8M367.1,365.4L367.5,364.5M368.2,365.9L368.9,364.5M370.6,366.4L370.9,365.9M371.4,367.6L372.2,365.9M372.9,367.3L373.3,366.5M374.5,369.3L375.8,366.9M375.6,369.9L376.5,368.1" stroke="#ffff00" stroke-width="0.97"/><path d="M334.5,346.8L334.7,346.4M335.1,348.2L335.7,347.1M336.3,348.5L336.5,348.1M337.3,349.3L337.8,348.3M338.5,349.6L338.9,348.8M339.6,350.0L339.8,349.6M340.7,350.5L341.0,349.9M341.9,350.9L342.1,350.4M343.2,351.0L343.5,350.4M344.3,351.5L344.7,350.7M345.5,351.8L345.7,351.5M346.2,353.1L346.7,352.2M347.4,353.4L347.7,352.7M348.6,353.7L348.8,353.3M349.4,354.7L349.6,354.4M350.2,355.9L350.8,354.8M351.4,356.3L351.7,355.5M352.4,357.0L352.7,356.3M353.8,356.9L354.0,356.4M354.8,357.6L355.0,357.1M356.0,357.7L356.2,357.3M356.8,358.9L357.3,357.9M358.2,358.8L358.6,357.9M359.3,359.3L359.6,358.6M360.1,360.4L360.6,359.3M361.5,360.4L361.7,359.9M362.5,361.0L362.8,360.4M363.4,361.9L363.7,361.2M364.4,362.6L364.9,361.6M365.5,363.1L365.8,362.6M366.5,363.8L367.0,362.9M367.5,364.5L367.8,363.8M368.9,364.5L369.1,364.1M370.1,364.8L370.3,364.3M370.9,365.9L371.3,365.0M372.2,365.9L372.4,365.5M373.3,366.5L373.6,365.8M374.5,366.7L374.8,366.2M375.8,366.9L376.0,366.5M376.5,368.1L376.8,367.5" stroke="#ffff00" stroke-width="1.57"/><path d="M334.7,346.4L336.9,341.9M335.7,347.1L338.0,342.5M336.5,348.1L339.1,343.0M337.8,348.3L340.2,343.5M338.9,348.8L341.2,344.1M339.8,349.6L342.3,344.6M341.0,349.9L343.4,345.2M342.1,350.4L344.5,345.7M343.5,350.4L345.6,346.2M344.7,350.7L346.6,346.8M345.7,351.5L347.7,347.3M346.7,352.2L348.8,347.9M347.7,352.7L349.9,348.4M348.8,353.3L351.0,348.9M349.6,354.4L352.1,349.5M350.8,354.8L353.1,350.0M351.7,355.5L354.2,350.6M352.7,356.3L355.3,351.1M354.0,356.4L356.4,351.6M355.0,357.1L357.5,352.2M356.2,357.3L358.5,352.7M357.3,357.9L359.6,353.3M358.6,357.9L360.7,353.8M359.6,358.6L361.8,354.3M360.6,359.3L362.9,354.9M361.7,359.9L363.9,355.4M362.8,360.4L365.0,356.0M363.7,361.2L366.1,356.5M364.9,361.6L367.2,357.0M365.8,362.6L368.3,357.6M367.0,362.9L369.3,358.1M367.8,363.8L370.4,358.7M369.1,364.1L371.5,359.2M370.3,364.3L372.6,359.8M371.3,365.0L373.7,360.3M372.4,365.5L374.8,360.8M373.6,365.8L375.8,361.4M374.8,366.2L376.9,361.9M376.0,366.5L378.0,362.5M376.8,367.5L379.1,363.0" stroke="#00ffff" stroke-width="1.57"/></g>
<polygon points="331.4,351.6 343.2,345.3 379.5,363.5 367,369.3" fill="none" stroke="#00ffff" stroke-width="1"/>
<clipPath id="c14"><polygon points="336.347,395.903 369.341,396.091 368.683,413.575 336.629,415.831"/></clipPath>
<g clip-path="url(#c14)" fill="none"><path d="M335.9,411.4L335.9,406.6M338.3,407.8L338.3,405.0M340.7,409.8L340.7,405.5M343.2,410.9L343.2,405.0M345.6,409.3L345.6,407.3M346.8,411.4L346.8,407.6M348.0,410.9L348.0,406.7M350.4,410.3L350.4,407.8M351.6,410.9L351.6,407.4M352.9,410.0L352.9,406.7M354.1,410.6L354.1,405.2M355.3,410.6L355.3,405.7M357.7,410.6L357.7,407.2M358.9,411.8L358.9,404.4M360.1,410.5L360.1,406.5M362.5,410.7L362.5,407.9M365.0,411.6L365.0,409.1M367.4,410.2L367.4,407.8M369.8,410.0L369.8,408.3" stroke="#ffff00" stroke-width="0.97"/><path d="M335.9,406.6L335.9,404.1M337.1,405.3L337.1,403.9M338.3,405.0L338.3,403.8M339.5,406.4L339.5,402.9M340.7,405.5L340.7,402.9M342.0,405.3L342.0,402.8M343.2,405.0L343.2,402.5M344.4,405.4L344.4,402.9M345.6,407.3L345.6,403.2M346.8,407.6L346.8,403.7M348.0,406.7L348.0,404.1M349.2,405.8L349.2,404.4M350.4,407.8L350.4,404.3M351.6,407.4L351.6,404.9M352.9,406.7L352.9,404.2M354.1,405.2L354.1,403.5M355.3,405.7L355.3,403.3M356.5,403.9L356.5,402.7M357.7,407.2L357.7,403.5M358.9,404.4L358.9,402.9M360.1,406.5L360.1,402.9M361.3,406.9L361.3,403.0M362.5,407.9L362.5,403.7M363.7,406.1L363.7,403.7M365.0,409.1L365.0,404.7M366.2,407.1L366.2,405.1M367.4,407.8L367.4,405.2M368.6,406.6L368.6,404.3M369.8,408.3L369.8,404.7" stroke="#ffff00" stroke-width="1.57"/><path d="M335.9,404.1L335.9,394.9M337.1,403.9L337.1,394.9M338.3,403.8L338.3,394.9M339.5,402.9L339.5,394.9M340.7,402.9L340.7,394.9M342.0,402.8L342.0,394.9M343.2,402.5L343.2,394.9M344.4,402.9L344.4,394.9M345.6,403.2L345.6,394.9M346.8,403.7L346.8,394.9M348.0,404.1L348.0,394.9M349.2,404.4L349.2,394.9M350.4,404.3L350.4,394.9M351.6,404.9L351.6,394.9M352.9,404.2L352.9,394.9M354.1,403.5L354.1,394.9M355.3,403.3L355.3,394.9M356.5,402.7L356.5,394.9M357.7,403.5L357.7,394.9M358.9,402.9L358.9,394.9M360.1,402.9L360.1,394.9M361.3,403.0L361.3,394.9M362.5,403.7L362.5,394.9M363.7,403.7L363.7,394.9M365.0,404.7L365.0,394.9M366.2,405.1L366.2,394.9M367.4,405.2L367.4,394.9M368.6,404.3L368.6,394.9M369.8,404.7L369.8,394.9" stroke="#00ffff" stroke-width="1.57"/></g>
<polygon points="335.3,395.3 370.4,395.5 369.7,414.1 335.6,416.5" fill="none" stroke="#00ffff" stroke-width="1"/>
<clipPath id="c15"><polygon points="336.55,461.659 377.346,456.113 379.321,483.279 343.882,486.851"/></clipPath>
<g clip-path="url(#c15)" fill="none"><path d="M334.1,477.2L334.5,472.6M336.4,478.1L337.3,469.6M338.8,479.5L339.7,469.7M340.1,478.4L341.2,467.2M341.9,472.4L342.6,465.4M342.5,479.2L343.3,470.7M344.3,473.1L344.9,467.2M346.2,478.4L347.2,468.7M348.7,478.2L349.5,470.0M349.7,480.3L351.0,467.9M351.0,480.1L351.7,472.7M353.9,475.6L353.9,475.2M354.8,478.5L355.8,468.5M356.3,475.3L356.6,472.5M358.3,480.6L359.0,473.0M359.7,478.9L360.5,470.3M360.6,481.3L361.6,471.9M363.1,480.9L363.8,474.4M366.3,473.9L366.7,470.1M368.1,480.3L368.6,475.7M370.5,480.5L371.1,474.7M373.6,474.7L373.8,472.4M375.2,483.1L376.0,474.9M378.6,473.8L378.7,472.4M380.3,480.8L380.9,475.2" stroke="#ffff00" stroke-width="0.98"/><path d="M334.5,472.6L335.3,465.1M336.2,468.0L336.5,464.9M337.3,469.6L337.9,463.2M338.8,467.0L339.2,463.3M339.7,469.7L340.4,463.2M341.2,467.2L341.8,461.9M342.6,465.4L342.9,462.3M343.3,470.7L344.1,462.9M344.9,467.2L345.3,463.3M346.2,466.6L346.4,464.4M347.2,468.7L347.6,464.9M348.3,470.3L348.8,465.2M349.5,470.0L350.0,465.4M351.0,467.9L351.2,465.4M351.7,472.7L352.4,465.3M353.0,471.7L353.7,465.3M353.9,475.2L354.8,466.6M355.8,468.5L356.1,465.6M356.6,472.5L357.4,465.2M357.8,473.2L358.6,465.0M359.0,473.0L359.8,464.8M360.5,470.3L361.2,463.7M361.6,471.9L362.4,464.1M362.9,470.7L363.5,465.0M363.8,474.4L364.6,466.3M365.3,471.2L365.7,467.4M366.7,470.1L366.9,467.5M367.5,474.1L368.0,468.6M368.6,475.7L369.4,467.8M370.1,472.3L370.7,467.0M371.1,474.7L371.9,466.9M372.3,475.5L373.1,466.9M373.8,472.4L374.4,466.0M375.0,472.4L375.7,465.7M376.0,474.9L376.9,466.2M377.3,474.2L378.1,466.1M378.7,472.4L379.3,466.0M380.1,471.0L380.5,466.4M380.9,475.2L381.6,467.8" stroke="#ffff00" stroke-width="1.59"/><path d="M335.3,465.1L336.8,450.2M336.5,464.9L338.0,450.3M337.9,463.2L339.2,450.4M339.2,463.3L340.4,450.5M340.4,463.2L341.7,450.7M341.8,461.9L342.9,450.8M342.9,462.3L344.1,450.9M344.1,462.9L345.3,451.0M345.3,463.3L346.5,451.2M346.4,464.4L347.7,451.3M347.6,464.9L348.9,451.4M348.8,465.2L350.2,451.5M350.0,465.4L351.4,451.6M351.2,465.4L352.6,451.8M352.4,465.3L353.8,451.9M353.7,465.3L355.0,452.0M354.8,466.6L356.2,452.1M356.1,465.6L357.4,452.3M357.4,465.2L358.6,452.4M358.6,465.0L359.9,452.5M359.8,464.8L361.1,452.6M361.2,463.7L362.3,452.7M362.4,464.1L363.5,452.9M363.5,465.0L364.7,453.0M364.6,466.3L365.9,453.1M365.7,467.4L367.1,453.2M366.9,467.5L368.4,453.4M368.0,468.6L369.6,453.5M369.4,467.8L370.8,453.6M370.7,467.0L372.0,453.7M371.9,466.9L373.2,453.8M373.1,466.9L374.4,454.0M374.4,466.0L375.6,454.1M375.7,465.7L376.9,454.2M376.9,466.2L378.1,454.3M378.1,466.1L379.3,454.5M379.3,466.0L380.5,454.6M380.5,466.4L381.7,454.7M381.6,467.8L382.9,454.8" stroke="#00ffff" stroke-width="1.59"/></g>
<polygon points="335.1,461 378.5,455.1 380.6,484 342.9,487.8" fill="none" stroke="#00ffff" stroke-width="1"/>
<clipPath id="c16"><polygon points="306.048,483.488 320.805,473.618 335.564,478.976 314.884,490.82"/></clipPath>
<g clip-path="url(#c16)" fill="none"><path d="M307.2,481.3L310.1,476.5M306.9,484.4L310.0,479.0M309.7,482.0L312.7,476.9M310.3,485.9L314.3,479.0M312.2,487.5L315.0,482.7M313.2,488.1L318.6,479.0M316.6,484.9L319.1,480.7M315.2,489.7L319.3,482.7M316.7,489.6L320.9,482.4M318.2,489.4L321.6,483.6M319.8,489.2L324.2,481.6M320.1,491.0L323.4,485.4M324.8,485.5L326.3,482.9M322.0,492.7L325.8,486.2M324.1,491.5L326.2,487.9M326.3,492.7L328.8,488.4M326.9,494.0L331.4,486.4" stroke="#ffff00" stroke-width="0.99"/><path d="M310.1,476.5L312.8,472.0M310.0,479.0L313.5,473.1M312.7,476.9L314.6,473.8M312.8,479.2L315.8,474.2M314.3,479.0L316.3,475.7M314.6,481.1L317.5,476.1M315.0,482.7L318.2,477.2M318.6,479.0L319.8,477.1M319.1,480.7L320.6,478.0M319.3,482.7L322.3,477.6M320.9,482.4L323.7,477.6M321.6,483.6L324.7,478.3M324.2,481.6L325.9,478.8M323.4,485.4L326.7,479.8M326.3,482.9L327.5,481.0M325.8,486.2L328.8,481.1M326.2,487.9L329.6,482.2M328.2,487.0L330.1,483.7M328.8,488.4L331.1,484.5M331.4,486.4L332.6,484.4" stroke="#ffff00" stroke-width="1.60"/><path d="M312.8,472.0L316.1,466.2M313.5,473.1L317.2,466.9M314.6,473.8L318.2,467.5M315.8,474.2L319.3,468.1M316.3,475.7L320.4,468.7M317.5,476.1L321.4,469.4M318.2,477.2L322.5,470.0M319.8,477.1L323.6,470.6M320.6,478.0L324.6,471.2M322.3,477.6L325.7,471.9M323.7,477.6L326.7,472.5M324.7,478.3L327.8,473.1M325.9,478.8L328.9,473.7M326.7,479.8L329.9,474.4M327.5,481.0L331.0,475.0M328.8,481.1L332.0,475.6M329.6,482.2L333.1,476.2M330.1,483.7L334.2,476.9M331.1,484.5L335.2,477.5M332.6,484.4L336.3,478.1" stroke="#00ffff" stroke-width="1.60"/></g>
<polygon points="305.2,483.6 320.9,473.1 336.6,478.8 314.6,491.4" fill="none" stroke="#00ffff" stroke-width="1"/>
<clipPath id="c17"><polygon points="154.746,510.867 161.044,502.219 192.91,518.763 188.399,528.351"/></clipPath>
<g clip-path="url(#c17)" fill="none"><path d="M192.6,521.5L192.4,521.8M190.0,521.1L189.9,521.3M190.1,518.4L188.6,521.3M188.6,518.6L187.9,519.9M185.4,519.4L185.4,519.5M185.8,516.1L185.1,517.4M184.2,516.4L184.0,516.8M181.8,515.8L181.6,516.1M181.3,514.0L180.0,516.5M180.1,513.8L179.2,515.6M179.2,512.7L178.5,514.2M177.9,512.6L176.7,515.0M176.7,512.3L175.3,514.9M175.2,512.6L174.3,514.3M174.8,510.7L173.2,513.7M173.2,511.1L172.4,512.6M172.6,509.7L171.8,511.1M171.2,509.7L170.6,510.9M169.5,507.7L168.4,509.6M167.1,506.9L166.1,508.8M166.0,506.4L165.3,507.8M164.9,505.9L164.0,507.5M164.0,504.9L163.0,506.8M162.7,504.9L161.8,506.6M160.3,504.1L159.6,505.4M159.7,502.7L158.7,504.5M158.5,502.3L157.2,504.7" stroke="#ffff00" stroke-width="0.98"/><path d="M192.4,521.8L191.6,523.4M190.8,522.3L190.2,523.4M189.9,521.3L189.3,522.6M188.6,521.3L188.0,522.4M187.9,519.9L187.2,521.2M186.5,520.0L186.2,520.5M185.4,519.5L185.1,520.1M185.1,517.4L184.3,519.0M184.0,516.8L183.3,518.3M182.3,517.4L182.0,518.1M181.6,516.1L180.9,517.6M180.0,516.5L179.8,517.1M179.2,515.6L178.6,516.6M178.5,514.2L177.6,516.0M176.7,515.0L176.5,515.4M175.3,514.9L175.1,515.5M174.3,514.3L174.0,514.9M173.2,513.7L173.0,514.2M172.4,512.6L171.9,513.6M171.8,511.1L171.0,512.6M170.6,510.9L169.9,512.2M169.7,509.8L169.0,511.3M168.4,509.6L167.8,510.9M167.9,508.0L167.0,509.8M166.1,508.8L165.6,509.7M165.3,507.8L164.5,509.4M164.0,507.5L163.5,508.5M163.0,506.8L162.3,508.2M161.8,506.6L161.0,508.1M160.5,506.3L160.1,507.1M159.6,505.4L158.8,507.0M158.7,504.5L157.9,506.1M157.2,504.7L156.6,505.9" stroke="#ffff00" stroke-width="1.59"/><path d="M191.6,523.4L188.7,529.1M190.2,523.4L187.6,528.6M189.3,522.6L186.5,528.0M188.0,522.4L185.4,527.4M187.2,521.2L184.3,526.9M186.2,520.5L183.2,526.3M185.1,520.1L182.1,525.8M184.3,519.0L181.1,525.2M183.3,518.3L180.0,524.6M182.0,518.1L178.9,524.1M180.9,517.6L177.8,523.5M179.8,517.1L176.7,522.9M178.6,516.6L175.6,522.4M177.6,516.0L174.5,521.8M176.5,515.4L173.4,521.3M175.1,515.5L172.4,520.7M174.0,514.9L171.3,520.1M173.0,514.2L170.2,519.6M171.9,513.6L169.1,519.0M171.0,512.6L168.0,518.5M169.9,512.2L166.9,517.9M169.0,511.3L165.8,517.3M167.8,510.9L164.8,516.8M167.0,509.8L163.7,516.2M165.6,509.7L162.6,515.6M164.5,509.4L161.5,515.1M163.5,508.5L160.4,514.5M162.3,508.2L159.3,514.0M161.0,508.1L158.2,513.4M160.1,507.1L157.2,512.8M158.8,507.0L156.1,512.3M157.9,506.1L155.0,511.7M156.6,505.9L153.9,511.2" stroke="#00ffff" stroke-width="1.59"/></g>
<polygon points="153.5,510.6 160.2,501.4 194.1,519 189.3,529.2" fill="none" stroke="#00ffff" stroke-width="1"/>
<clipPath id="c18"><polygon points="288.166,494.262 314.768,496.236 316.741,517.856 287.226,516.446"/></clipPath>
<g clip-path="url(#c18)" fill="none"><path d="M308.9,518.0L302.3,518.0M309.1,516.7L300.9,516.7M307.0,515.5L300.9,515.5M308.2,514.2L301.0,514.2M307.7,513.0L302.5,513.0M308.3,510.4L300.3,510.4M308.4,509.2L299.9,509.2M307.5,507.9L302.1,507.9M303.3,505.4L299.6,505.4M307.9,504.2L301.2,504.2M305.2,502.9L299.3,502.9M304.8,500.4L303.1,500.4M307.0,497.9L301.6,497.9M309.5,496.6L302.3,496.6M308.1,495.4L304.7,495.4" stroke="#ffff00" stroke-width="1.00"/><path d="M302.3,518.0L297.5,518.0M300.9,516.7L298.9,516.7M300.9,515.5L298.4,515.5M301.0,514.2L298.4,514.2M302.5,513.0L298.8,513.0M304.3,511.7L299.2,511.7M300.3,510.4L298.4,510.4M299.9,509.2L297.2,509.2M302.1,507.9L296.5,507.9M301.2,506.7L296.9,506.7M299.6,505.4L297.2,505.4M301.2,504.2L297.0,504.2M299.3,502.9L297.0,502.9M299.9,501.7L296.6,501.7M303.1,500.4L297.9,500.4M301.6,499.1L298.5,499.1M301.6,497.9L299.9,497.9M302.3,496.6L298.5,496.6M304.7,495.4L299.5,495.4M303.0,494.1L297.9,494.1" stroke="#ffff00" stroke-width="1.63"/><path d="M297.5,518.0L285.7,518.0M298.9,516.7L285.7,516.7M298.4,515.5L285.7,515.5M298.4,514.2L285.7,514.2M298.8,513.0L285.7,513.0M299.2,511.7L285.7,511.7M298.4,510.4L285.7,510.4M297.2,509.2L285.7,509.2M296.5,507.9L285.7,507.9M296.9,506.7L285.7,506.7M297.2,505.4L285.7,505.4M297.0,504.2L285.7,504.2M297.0,502.9L285.7,502.9M296.6,501.7L285.7,501.7M297.9,500.4L285.7,500.4M298.5,499.1L285.7,499.1M299.9,497.9L285.7,497.9M298.5,496.6L285.7,496.6M299.5,495.4L285.7,495.4M297.9,494.1L285.7,494.1" stroke="#00ffff" stroke-width="1.63"/></g>
<polygon points="287.3,493.5 315.6,495.6 317.7,518.6 286.3,517.1" fill="none" stroke="#00ffff" stroke-width="1"/>
<clipPath id="c19"><polygon points="319.74,527.803 347,506.465 380.84,518.309 359.22,540.023"/></clipPath>
<g clip-path="url(#c19)" fill="none"><path d="M379.7,509.2L381.1,514.3M378.0,512.1L378.1,512.6M376.0,513.9L376.2,514.8M373.0,512.2L373.8,515.1M371.8,512.5L373.0,516.9M371.4,515.6L371.9,517.5M368.8,515.2L369.7,518.6M366.9,513.0L368.0,517.1M365.9,513.7L366.9,517.7M363.4,513.7L364.8,518.9M361.5,516.1L362.1,518.3M359.7,518.6L360.1,520.4M357.7,516.0L358.8,520.1M356.3,515.5L357.2,518.7M355.3,516.3L357.1,523.2M354.4,517.6L355.1,520.2M353.0,517.0L354.6,523.3M352.5,520.1L353.6,523.9M350.8,518.5L352.1,523.2M350.6,522.3L350.9,523.4M347.4,519.7L348.1,522.2M345.9,518.6L347.0,522.7M344.8,519.3L345.2,520.7M342.3,519.5L343.6,524.2M340.5,521.9L340.9,523.3M338.7,520.1L340.8,527.8M338.7,524.8L339.8,528.7M336.6,521.6L337.7,525.5M337.1,528.0L337.3,528.7M333.3,523.3L334.3,526.9M331.8,522.2L332.9,526.3M331.1,524.4L331.4,525.4M329.6,523.4L330.6,527.0M329.0,525.9L329.3,526.9M326.1,524.4L327.1,528.0M324.3,527.0L325.4,531.0M322.5,525.0L323.6,529.0M321.4,525.4L323.2,532.3M320.1,525.4L321.5,530.6M319.6,528.2L320.2,530.4" stroke="#ffff00" stroke-width="0.97"/><path d="M381.1,514.3L381.3,515.3M379.7,513.8L380.0,514.9M378.1,512.6L379.0,515.7M377.1,513.6L378.0,516.9M376.2,514.8L376.7,516.7M375.5,516.7L375.9,518.3M373.8,515.1L374.7,518.5M373.0,516.9L373.5,518.9M371.9,517.5L372.9,521.0M370.8,518.1L371.2,519.6M369.7,518.6L370.6,521.8M368.0,517.1L368.8,520.0M366.9,517.7L367.9,521.2M365.5,516.9L366.2,519.7M364.8,518.9L365.2,520.6M363.6,519.4L363.9,520.6M362.1,518.3L362.4,519.5M360.8,518.1L361.2,519.6M360.1,520.4L360.4,521.3M358.8,520.1L359.1,521.0M357.2,518.7L358.1,522.0M357.1,523.2L357.5,524.4M355.1,520.2L356.0,523.5M354.6,523.3L355.2,525.3M353.6,523.9L354.1,526.1M352.1,523.2L352.5,524.6M350.9,523.4L351.5,525.7M349.9,524.1L350.3,525.7M348.1,522.2L348.5,523.8M347.0,522.7L347.3,524.0M345.2,520.7L346.1,524.0M345.0,524.7L345.3,525.8M343.6,524.2L344.0,525.7M342.3,524.1L342.7,525.7M340.9,523.3L341.8,526.8M340.8,527.8L341.1,529.0M339.8,528.7L340.1,529.7M337.7,525.5L338.6,529.0M337.3,528.7L337.8,530.4M335.2,525.6L336.0,528.7M334.3,526.9L334.8,528.9M332.9,526.3L333.5,528.7M331.4,525.4L332.2,528.3M330.6,527.0L330.9,528.1M329.3,526.9L329.9,529.0M327.8,526.0L328.5,528.5M327.1,528.0L327.7,530.4M325.5,526.8L326.3,529.6M325.4,531.0L325.6,532.0M323.6,529.0L324.4,532.1M323.2,532.3L323.5,533.3M321.5,530.6L322.4,533.8M320.2,530.4L321.0,533.5M319.3,531.6L319.8,533.5" stroke="#ffff00" stroke-width="1.57"/><path d="M381.3,515.3L386.6,534.7M380.0,514.9L385.4,535.0M379.0,515.7L384.2,535.3M378.0,516.9L383.0,535.6M376.7,516.7L381.9,535.9M375.9,518.3L380.7,536.2M374.7,518.5L379.5,536.5M373.5,518.9L378.4,536.9M372.9,521.0L377.2,537.2M371.2,519.6L376.0,537.5M370.6,521.8L374.9,537.8M368.8,520.0L373.7,538.1M367.9,521.2L372.5,538.4M366.2,519.7L371.4,538.7M365.2,520.6L370.2,539.1M363.9,520.6L369.0,539.4M362.4,519.5L367.8,539.7M361.2,519.6L366.7,540.0M360.4,521.3L365.5,540.3M359.1,521.0L364.3,540.6M358.1,522.0L363.2,541.0M357.5,524.4L362.0,541.3M356.0,523.5L360.8,541.6M355.2,525.3L359.7,541.9M354.1,526.1L358.5,542.2M352.5,524.6L357.3,542.5M351.5,525.7L356.2,542.8M350.3,525.7L355.0,543.2M348.5,523.8L353.8,543.5M347.3,524.0L352.6,543.8M346.1,524.0L351.5,544.1M345.3,525.8L350.3,544.4M344.0,525.7L349.1,544.7M342.7,525.7L348.0,545.0M341.8,526.8L346.8,545.4M341.1,529.0L345.6,545.7M340.1,529.7L344.5,546.0M338.6,529.0L343.3,546.3M337.8,530.4L342.1,546.6M336.0,528.7L341.0,546.9M334.8,528.9L339.8,547.2M333.5,528.7L338.6,547.6M332.2,528.3L337.4,547.9M330.9,528.1L336.3,548.2M329.9,529.0L335.1,548.5M328.5,528.5L333.9,548.8M327.7,530.4L332.8,549.1M326.3,529.6L331.6,549.4M325.6,532.0L330.4,549.8M324.4,532.1L329.3,550.1M323.5,533.3L328.1,550.4M322.4,533.8L326.9,550.7M321.0,533.5L325.8,551.0M319.8,533.5L324.6,551.3" stroke="#00ffff" stroke-width="1.57"/></g>
<polygon points="317.7,528.1 346.7,505.4 382.7,518 359.7,541.1" fill="none" stroke="#00ffff" stroke-width="1"/>
<clipPath id="c20"><polygon points="285.523,656.469 310.527,636.447 325.285,642.087 303.665,663.895"/></clipPath>
<g clip-path="url(#c20)" fill="none"><path d="M291.9,665.6L291.7,665.4M297.2,668.4L293.0,663.1M298.1,667.6L295.4,664.1M297.2,664.4L296.6,663.7M301.0,665.3L299.5,663.5M301.0,661.3L299.0,658.9M302.5,659.4L302.2,659.0M306.9,661.0L302.5,655.4M307.1,657.3L305.3,655.0M308.7,655.4L307.6,654.0M311.7,655.3L310.0,653.2M314.4,654.8L311.0,650.5M316.5,653.5L314.1,650.5M317.5,652.8L314.9,649.6M318.7,652.3L314.6,647.2M319.6,649.5L317.2,646.5M322.5,649.3L319.4,645.4M322.7,647.6L320.1,644.3M324.2,647.6L321.0,643.5M325.2,644.9L322.5,641.5M328.2,644.7L324.5,640.1" stroke="#ffff00" stroke-width="0.97"/><path d="M291.7,665.4L289.9,663.1M293.5,665.7L291.1,662.6M293.0,663.1L291.5,661.2M295.4,664.1L292.9,661.0M296.6,663.7L293.6,660.0M297.0,662.3L295.0,659.8M299.5,663.5L296.5,659.7M298.5,660.3L297.5,659.0M299.0,658.9L298.2,657.8M300.4,658.7L299.2,657.2M302.2,659.0L300.1,656.4M301.9,656.6L300.9,655.3M302.5,655.4L301.6,654.3M304.4,655.9L302.5,653.5M305.3,655.0L303.6,652.9M306.9,655.1L304.1,651.6M307.6,654.0L305.1,650.8M308.9,653.7L305.9,650.0M310.0,653.2L307.3,649.8M311.4,653.0L308.5,649.3M311.0,650.5L309.7,648.8M313.8,652.0L310.7,648.2M314.1,650.5L311.4,647.1M314.9,649.6L313.0,647.1M314.6,647.2L313.2,645.5M315.9,646.8L314.3,644.8M317.2,646.5L315.4,644.3M317.3,644.7L316.2,643.3M319.4,645.4L316.5,641.7M320.1,644.3L317.3,640.8M321.0,643.5L318.8,640.7M320.8,641.3L319.4,639.5M322.5,641.5L320.3,638.7M323.5,640.8L321.8,638.6M324.5,640.1L323.1,638.3" stroke="#ffff00" stroke-width="1.58"/><path d="M289.9,663.1L284.4,656.1M291.1,662.6L285.3,655.4M291.5,661.2L286.3,654.6M292.9,661.0L287.2,653.9M293.6,660.0L288.2,653.1M295.0,659.8L289.1,652.3M296.5,659.7L290.1,651.6M297.5,659.0L291.0,650.8M298.2,657.8L292.0,650.1M299.2,657.2L293.0,649.3M300.1,656.4L293.9,648.6M300.9,655.3L294.9,647.8M301.6,654.3L295.8,647.0M302.5,653.5L296.8,646.3M303.6,652.9L297.7,645.5M304.1,651.6L298.7,644.8M305.1,650.8L299.6,644.0M305.9,650.0L300.6,643.3M307.3,649.8L301.5,642.5M308.5,649.3L302.5,641.7M309.7,648.8L303.4,641.0M310.7,648.2L304.4,640.2M311.4,647.1L305.4,639.5M313.0,647.1L306.3,638.7M313.2,645.5L307.3,637.9M314.3,644.8L308.2,637.2M315.4,644.3L309.2,636.4M316.2,643.3L310.1,635.7M316.5,641.7L311.1,634.9M317.3,640.8L312.0,634.2M318.8,640.7L313.0,633.4M319.4,639.5L313.9,632.6M320.3,638.7L314.9,631.9M321.8,638.6L315.8,631.1M323.1,638.3L316.8,630.4" stroke="#00ffff" stroke-width="1.58"/></g>
<polygon points="284.2,656.9 310.8,635.6 326.5,641.6 303.5,664.8" fill="none" stroke="#00ffff" stroke-width="1"/>
<polygon points="8,156.5 37,146 46,168.5 20,178" fill="none" stroke="#ff0000" stroke-width="1"/>
<polygon points="85,151.5 111,147 126,165 99,172" fill="none" stroke="#ff0000" stroke-width="1"/>
<polygon points="54,171.5 72,165 79.5,176 61,185" fill="none" stroke="#ff0000" stroke-width="1"/>
<polygon points="16,230 35,213 54,223.5 34,239.5" fill="none" stroke="#ff0000" stroke-width="1"/>
<polygon points="79.5,224 99,205 123,218 107.5,233.5" fill="none" stroke="#ff0000" stroke-width="1"/>
<polygon points="97.5,263 114,251.5 153,265 145,274" fill="none" stroke="#ff0000" stroke-width="1"/>
<polygon points="178,139.5 211.5,135 227.5,145 206.5,152" fill="none" stroke="#ff0000" stroke-width="1"/>
<polygon points="132,179.5 153,167 172.5,171.5 155.5,184.5" fill="none" stroke="#ff0000" stroke-width="1"/>
<polygon points="161,189 185.5,176 218,187 181,201.5" fill="none" stroke="#ff0000" stroke-width="1"/>
<polygon points="135.5,204 155,193 176,203 160,213" fill="none" stroke="#ff0000" stroke-width="1"/>
<polygon points="141,228.5 154,213 172.5,218 165,233.5" fill="none" stroke="#ff0000" stroke-width="1"/>
<polygon points="218,231 252.5,205 262.5,216.5 236,235" fill="none" stroke="#ff0000" stroke-width="1"/>
<polygon points="157.5,265 181,249 200,259 182.5,274" fill="none" stroke="#ff0000" stroke-width="1"/>
<polygon points="199,300 207,290 218,294 211,304.5" fill="none" stroke="#ff0000" stroke-width="1"/>
<polygon points="318,282 361,247 371,251 331,289" fill="none" stroke="#ff0000" stroke-width="1"/>
<polygon points="269.5,305 280,294 303,301 291,311" fill="none" stroke="#ff0000" stroke-width="1"/>
<polygon points="162,316 176,304 199,315 184,330" fill="none" stroke="#ff0000" stroke-width="1"/>
<polygon points="190,362 210,351 227.5,366 207.5,377.5" fill="none" stroke="#ff00ff" stroke-width="1"/>
<polygon points="141,389 156,380 165,386 154,396" fill="none" stroke="#ff00ff" stroke-width="1"/>
<polygon points="205.5,395 216,388 225.5,399 215,405.5" fill="none" stroke="#ff00ff" stroke-width="1"/>
<polygon points="160.5,409 171,399.5 182,401 177,414" fill="none" stroke="#ff00ff" stroke-width="1"/>
<polygon points="217.5,423 219,409 238,410 237.5,425" fill="none" stroke="#ff00ff" stroke-width="1"/>
<polygon points="134.5,422.5 156,420.5 158,432 137,433" fill="none" stroke="#ff00ff" stroke-width="1"/>
<polygon points="186,451 189,424.5 214,424 210.5,442.5" fill="none" stroke="#ff00ff" stroke-width="1"/>
<polygon points="267.5,421 290,404 312.5,420 297.5,437.5" fill="none" stroke="#ff00ff" stroke-width="1"/>
<polygon points="217.5,538 231,529 245,536 239,545" fill="none" stroke="#ff00ff" stroke-width="1"/>
<polygon points="163,549 199,544 205.5,566 167.5,572.5" fill="none" stroke="#ff00ff" stroke-width="1"/>
<polygon points="203,592.5 234,591 234,611 210,613" fill="none" stroke="#ff00ff" stroke-width="1"/>
<polygon points="209,652.5 231,649 237,667.5 214,671" fill="none" stroke="#ff00ff" stroke-width="1"/>
<polygon points="254,556 264,534.5 300,538 286,559.5" fill="none" stroke="#ff00ff" stroke-width="1"/>
<polygon points="328,589 331,572 365,577 363,588" fill="none" stroke="#ff00ff" stroke-width="1"/>
<polygon points="295,623 311,592.5 327,594 321,622" fill="none" stroke="#ff00ff" stroke-width="1"/>
<polygon points="365,625.5 370,605 390.5,609.5 388,625" fill="none" stroke="#ff00ff" stroke-width="1"/>
<polygon points="269.5,630 292.5,624 302.5,639 284,646" fill="none" stroke="#ff00ff" stroke-width="1"/>
<polygon points="360,679 377.5,675.5 385,687 368,693" fill="none" stroke="#ff00ff" stroke-width="1"/>
<polygon points="330,728 346,717 362.5,726 346,739" fill="none" stroke="#ff00ff" stroke-width="1"/>
<polygon points="369,729 381,710 404.5,718 394.5,737" fill="none" stroke="#ff00ff" stroke-width="1"/>
<polygon points="289.5,747.5 303,741 312,748 298,757.5" fill="none" stroke="#ff00ff" stroke-width="1"/>
<polygon points="292.5,765 314,758 322.5,770 304.5,779" fill="none" stroke="#ff00ff" stroke-width="1"/>
<polygon points="379,789 387.5,771 405,780 394,799" fill="none" stroke="#ff00ff" stroke-width="1"/>
<path d="M334,180h1v1h-1zM329,176h1v1h-1zM342,169h1v1h-1zM344,168h1v1h-1zM329,178h1v1h-1zM316,177h1v1h-1zM345,175h1v1h-1zM319,176h1v1h-1zM328,180h1v1h-1zM367,200h1v1h-1zM364,203h1v1h-1zM358,205h1v1h-1zM365,214h1v1h-1zM365,199h1v1h-1zM365,201h1v1h-1zM360,216h1v1h-1zM360,214h1v1h-1zM357,206h1v1h-1zM371,209h1v1h-1zM364,217h1v1h-1zM360,211h1v1h-1zM366,207h1v1h-1zM374,195h1v1h-1zM396,234h1v1h-1zM392,226h1v1h-1zM391,244h1v1h-1zM392,241h1v1h-1zM385,238h1v1h-1zM386,215h1v1h-1zM386,223h1v1h-1zM391,234h1v1h-1zM339,147h1v1h-1zM352,145h1v1h-1zM278,155h1v1h-1zM279,152h1v1h-1zM375,170h1v1h-1zM360,180h1v1h-1zM374,174h1v1h-1zM356,786h1v1h-1zM351,790h1v1h-1zM357,785h1v1h-1zM363,790h1v1h-1zM364,793h1v1h-1zM360,786h1v1h-1zM351,791h1v1h-1zM357,787h1v1h-1z" fill="#fff"/>
<line x1="94" y1="261.5" x2="97.5" y2="263" stroke="#ff0000" stroke-width="1"/>
<line x1="51" y1="177" x2="55" y2="172" stroke="#ff0000" stroke-width="1"/>
<line x1="160.5" y1="409" x2="156" y2="420.5" stroke="#ff00ff" stroke-width="1"/>
<line x1="286" y1="765" x2="292.5" y2="765" stroke="#ff00ff" stroke-width="1"/>
<line x1="241.5" y1="239.5" x2="242.5" y2="248" stroke="#ff0000" stroke-width="1"/>
<line x1="242.5" y1="248" x2="247.5" y2="245" stroke="#ff0000" stroke-width="1"/>
<g shape-rendering="crispEdges"><rect x="3" y="146" width="408" height="1" fill="#00ff00"/><rect x="378" y="89" width="1" height="769" fill="#00ff00"/><rect x="392" y="89" width="1" height="769" fill="#ff0000"/><rect x="3" y="746" width="408" height="1" fill="#ff0000"/></g>
<g font-family="Liberation Mono, monospace" font-size="9px" stroke-width="0.3"><text x="8" y="145" fill="#00ff00" stroke="#00ff00">1</text><text x="382.5" y="96" fill="#00ff00" stroke="#00ff00">1</text><text x="401" y="745" fill="#ff0000" stroke="#ff0000">2</text><text x="396.5" y="856" fill="#ff0000" stroke="#ff0000">2</text></g>
<path d="M501.43,739.00h4.54v2.27h-4.54zM508.24,739.00h6.81v2.27h-6.81zM521.86,739.00h2.27v2.27h-2.27zM526.41,739.00h2.27v2.27h-2.27zM530.95,739.00h4.54v2.27h-4.54zM537.76,739.00h2.27v2.27h-2.27zM542.30,739.00h2.27v2.27h-2.27zM501.43,741.27h2.27v2.27h-2.27zM510.51,741.27h2.27v2.27h-2.27zM515.05,741.27h2.27v2.27h-2.27zM519.59,741.27h2.27v2.27h-2.27zM526.41,741.27h4.54v2.27h-4.54zM533.22,741.27h9.08v2.27h-9.08zM499.16,743.54h4.54v2.27h-4.54zM510.51,743.54h2.27v2.27h-2.27zM515.05,743.54h2.27v2.27h-2.27zM519.59,743.54h2.27v2.27h-2.27zM524.14,743.54h2.27v2.27h-2.27zM530.95,743.54h2.27v2.27h-2.27zM535.49,743.54h2.27v2.27h-2.27zM540.03,743.54h4.54v2.27h-4.54zM499.16,745.81h6.81v2.27h-6.81zM508.24,745.81h4.54v2.27h-4.54zM521.86,745.81h2.27v2.27h-2.27zM528.68,745.81h4.54v2.27h-4.54zM537.76,745.81h2.27v2.27h-2.27zM542.30,745.81h2.27v2.27h-2.27zM503.70,748.08h9.08v2.27h-9.08zM519.59,748.08h4.54v2.27h-4.54zM526.41,748.08h4.54v2.27h-4.54zM533.22,748.08h2.27v2.27h-2.27zM537.76,748.08h2.27v2.27h-2.27zM542.30,748.08h2.27v2.27h-2.27zM499.16,750.35h4.54v2.27h-4.54zM510.51,750.35h2.27v2.27h-2.27zM515.05,750.35h6.81v2.27h-6.81zM526.41,750.35h2.27v2.27h-2.27zM533.22,750.35h2.27v2.27h-2.27zM537.76,750.35h4.54v2.27h-4.54zM544.57,750.35h2.27v2.27h-2.27zM501.43,752.62h2.27v2.27h-2.27zM510.51,752.62h11.35v2.27h-11.35zM528.68,752.62h4.54v2.27h-4.54zM535.49,752.62h6.81v2.27h-6.81zM503.70,754.89h9.08v2.27h-9.08zM517.32,754.89h6.81v2.27h-6.81zM526.41,754.89h2.27v2.27h-2.27zM535.49,754.89h4.54v2.27h-4.54zM542.30,754.89h4.54v2.27h-4.54zM481.00,757.16h2.27v2.27h-2.27zM485.54,757.16h9.08v2.27h-9.08zM508.24,757.16h6.81v2.27h-6.81zM517.32,757.16h2.27v2.27h-2.27zM524.14,757.16h2.27v2.27h-2.27zM530.95,757.16h2.27v2.27h-2.27zM535.49,757.16h2.27v2.27h-2.27zM549.11,757.16h4.54v2.27h-4.54zM558.19,757.16h2.27v2.27h-2.27zM562.73,757.16h2.27v2.27h-2.27zM481.00,759.43h2.27v2.27h-2.27zM485.54,759.43h4.54v2.27h-4.54zM496.89,759.43h2.27v2.27h-2.27zM503.70,759.43h2.27v2.27h-2.27zM512.78,759.43h2.27v2.27h-2.27zM517.32,759.43h6.81v2.27h-6.81zM526.41,759.43h4.54v2.27h-4.54zM533.22,759.43h2.27v2.27h-2.27zM537.76,759.43h4.54v2.27h-4.54zM544.57,759.43h9.08v2.27h-9.08zM560.46,759.43h4.54v2.27h-4.54zM490.08,761.70h2.27v2.27h-2.27zM496.89,761.70h9.08v2.27h-9.08zM508.24,761.70h11.35v2.27h-11.35zM521.86,761.70h11.35v2.27h-11.35zM535.49,761.70h4.54v2.27h-4.54zM542.30,761.70h6.81v2.27h-6.81zM551.38,761.70h4.54v2.27h-4.54zM562.73,761.70h2.27v2.27h-2.27zM481.00,763.97h9.08v2.27h-9.08zM492.35,763.97h4.54v2.27h-4.54zM499.16,763.97h4.54v2.27h-4.54zM508.24,763.97h2.27v2.27h-2.27zM512.78,763.97h2.27v2.27h-2.27zM517.32,763.97h2.27v2.27h-2.27zM521.86,763.97h4.54v2.27h-4.54zM533.22,763.97h9.08v2.27h-9.08zM549.11,763.97h4.54v2.27h-4.54zM555.92,763.97h2.27v2.27h-2.27zM560.46,763.97h2.27v2.27h-2.27zM481.00,766.24h4.54v2.27h-4.54zM487.81,766.24h2.27v2.27h-2.27zM494.62,766.24h2.27v2.27h-2.27zM503.70,766.24h2.27v2.27h-2.27zM515.05,766.24h2.27v2.27h-2.27zM533.22,766.24h2.27v2.27h-2.27zM540.03,766.24h4.54v2.27h-4.54zM546.84,766.24h2.27v2.27h-2.27zM551.38,766.24h2.27v2.27h-2.27zM555.92,766.24h2.27v2.27h-2.27zM481.00,768.51h2.27v2.27h-2.27zM485.54,768.51h4.54v2.27h-4.54zM499.16,768.51h6.81v2.27h-6.81zM508.24,768.51h4.54v2.27h-4.54zM517.32,768.51h2.27v2.27h-2.27zM540.03,768.51h4.54v2.27h-4.54zM549.11,768.51h2.27v2.27h-2.27zM553.65,768.51h2.27v2.27h-2.27zM558.19,768.51h2.27v2.27h-2.27zM562.73,768.51h2.27v2.27h-2.27zM481.00,770.78h4.54v2.27h-4.54zM487.81,770.78h2.27v2.27h-2.27zM496.89,770.78h2.27v2.27h-2.27zM501.43,770.78h2.27v2.27h-2.27zM515.05,770.78h2.27v2.27h-2.27zM519.59,770.78h4.54v2.27h-4.54zM530.95,770.78h6.81v2.27h-6.81zM544.57,770.78h2.27v2.27h-2.27zM560.46,770.78h2.27v2.27h-2.27zM483.27,773.05h6.81v2.27h-6.81zM494.62,773.05h2.27v2.27h-2.27zM501.43,773.05h4.54v2.27h-4.54zM508.24,773.05h4.54v2.27h-4.54zM515.05,773.05h2.27v2.27h-2.27zM521.86,773.05h2.27v2.27h-2.27zM526.41,773.05h2.27v2.27h-2.27zM537.76,773.05h2.27v2.27h-2.27zM542.30,773.05h4.54v2.27h-4.54zM549.11,773.05h4.54v2.27h-4.54zM555.92,773.05h4.54v2.27h-4.54zM483.27,775.32h2.27v2.27h-2.27zM487.81,775.32h2.27v2.27h-2.27zM501.43,775.32h2.27v2.27h-2.27zM505.97,775.32h2.27v2.27h-2.27zM517.32,775.32h4.54v2.27h-4.54zM526.41,775.32h9.08v2.27h-9.08zM537.76,775.32h4.54v2.27h-4.54zM553.65,775.32h2.27v2.27h-2.27zM481.00,777.59h2.27v2.27h-2.27zM485.54,777.59h2.27v2.27h-2.27zM496.89,777.59h2.27v2.27h-2.27zM505.97,777.59h4.54v2.27h-4.54zM512.78,777.59h2.27v2.27h-2.27zM519.59,777.59h2.27v2.27h-2.27zM524.14,777.59h2.27v2.27h-2.27zM528.68,777.59h4.54v2.27h-4.54zM537.76,777.59h2.27v2.27h-2.27zM544.57,777.59h2.27v2.27h-2.27zM551.38,777.59h2.27v2.27h-2.27zM558.19,777.59h4.54v2.27h-4.54zM481.00,779.86h4.54v2.27h-4.54zM487.81,779.86h2.27v2.27h-2.27zM494.62,779.86h2.27v2.27h-2.27zM508.24,779.86h2.27v2.27h-2.27zM515.05,779.86h2.27v2.27h-2.27zM521.86,779.86h2.27v2.27h-2.27zM526.41,779.86h2.27v2.27h-2.27zM530.95,779.86h4.54v2.27h-4.54zM537.76,779.86h2.27v2.27h-2.27zM544.57,779.86h2.27v2.27h-2.27zM562.73,779.86h2.27v2.27h-2.27zM481.00,782.14h4.54v2.27h-4.54zM492.35,782.14h6.81v2.27h-6.81zM501.43,782.14h6.81v2.27h-6.81zM510.51,782.14h9.08v2.27h-9.08zM555.92,782.14h9.08v2.27h-9.08zM483.27,784.41h6.81v2.27h-6.81zM494.62,784.41h9.08v2.27h-9.08zM508.24,784.41h2.27v2.27h-2.27zM512.78,784.41h9.08v2.27h-9.08zM524.14,784.41h6.81v2.27h-6.81zM533.22,784.41h2.27v2.27h-2.27zM551.38,784.41h2.27v2.27h-2.27zM558.19,784.41h2.27v2.27h-2.27zM562.73,784.41h2.27v2.27h-2.27zM481.00,786.68h2.27v2.27h-2.27zM490.08,786.68h2.27v2.27h-2.27zM499.16,786.68h9.08v2.27h-9.08zM510.51,786.68h4.54v2.27h-4.54zM517.32,786.68h2.27v2.27h-2.27zM521.86,786.68h2.27v2.27h-2.27zM533.22,786.68h2.27v2.27h-2.27zM542.30,786.68h2.27v2.27h-2.27zM546.84,786.68h4.54v2.27h-4.54zM555.92,786.68h4.54v2.27h-4.54zM562.73,786.68h2.27v2.27h-2.27zM481.00,788.95h6.81v2.27h-6.81zM490.08,788.95h2.27v2.27h-2.27zM494.62,788.95h4.54v2.27h-4.54zM501.43,788.95h11.35v2.27h-11.35zM517.32,788.95h6.81v2.27h-6.81zM533.22,788.95h2.27v2.27h-2.27zM542.30,788.95h4.54v2.27h-4.54zM551.38,788.95h2.27v2.27h-2.27zM555.92,788.95h2.27v2.27h-2.27zM483.27,791.22h6.81v2.27h-6.81zM494.62,791.22h4.54v2.27h-4.54zM503.70,791.22h2.27v2.27h-2.27zM508.24,791.22h2.27v2.27h-2.27zM512.78,791.22h4.54v2.27h-4.54zM524.14,791.22h2.27v2.27h-2.27zM528.68,791.22h4.54v2.27h-4.54zM537.76,791.22h6.81v2.27h-6.81zM549.11,791.22h2.27v2.27h-2.27zM555.92,791.22h2.27v2.27h-2.27zM481.00,793.49h13.62v2.27h-13.62zM496.89,793.49h2.27v2.27h-2.27zM501.43,793.49h2.27v2.27h-2.27zM505.97,793.49h2.27v2.27h-2.27zM512.78,793.49h2.27v2.27h-2.27zM517.32,793.49h2.27v2.27h-2.27zM521.86,793.49h4.54v2.27h-4.54zM528.68,793.49h4.54v2.27h-4.54zM540.03,793.49h4.54v2.27h-4.54zM546.84,793.49h4.54v2.27h-4.54zM560.46,793.49h2.27v2.27h-2.27zM494.62,795.76h2.27v2.27h-2.27zM499.16,795.76h2.27v2.27h-2.27zM503.70,795.76h9.08v2.27h-9.08zM515.05,795.76h2.27v2.27h-2.27zM521.86,795.76h4.54v2.27h-4.54zM528.68,795.76h2.27v2.27h-2.27zM537.76,795.76h6.81v2.27h-6.81zM546.84,795.76h9.08v2.27h-9.08zM560.46,795.76h2.27v2.27h-2.27zM481.00,798.03h15.89v2.27h-15.89zM505.97,798.03h11.35v2.27h-11.35zM519.59,798.03h2.27v2.27h-2.27zM524.14,798.03h6.81v2.27h-6.81zM533.22,798.03h2.27v2.27h-2.27zM537.76,798.03h2.27v2.27h-2.27zM549.11,798.03h2.27v2.27h-2.27zM553.65,798.03h2.27v2.27h-2.27zM558.19,798.03h2.27v2.27h-2.27zM562.73,798.03h2.27v2.27h-2.27zM481.00,800.30h4.54v2.27h-4.54zM492.35,800.30h2.27v2.27h-2.27zM496.89,800.30h6.81v2.27h-6.81zM505.97,800.30h2.27v2.27h-2.27zM510.51,800.30h6.81v2.27h-6.81zM521.86,800.30h2.27v2.27h-2.27zM526.41,800.30h2.27v2.27h-2.27zM533.22,800.30h2.27v2.27h-2.27zM542.30,800.30h2.27v2.27h-2.27zM549.11,800.30h4.54v2.27h-4.54zM555.92,800.30h2.27v2.27h-2.27zM560.46,800.30h4.54v2.27h-4.54zM481.00,802.57h6.81v2.27h-6.81zM494.62,802.57h2.27v2.27h-2.27zM510.51,802.57h11.35v2.27h-11.35zM524.14,802.57h2.27v2.27h-2.27zM528.68,802.57h2.27v2.27h-2.27zM537.76,802.57h6.81v2.27h-6.81zM549.11,802.57h6.81v2.27h-6.81zM560.46,802.57h4.54v2.27h-4.54zM499.16,804.84h2.27v2.27h-2.27zM503.70,804.84h6.81v2.27h-6.81zM517.32,804.84h2.27v2.27h-2.27zM524.14,804.84h2.27v2.27h-2.27zM535.49,804.84h13.62v2.27h-13.62zM555.92,804.84h2.27v2.27h-2.27zM560.46,804.84h4.54v2.27h-4.54zM501.43,807.11h2.27v2.27h-2.27zM505.97,807.11h9.08v2.27h-9.08zM517.32,807.11h2.27v2.27h-2.27zM524.14,807.11h4.54v2.27h-4.54zM530.95,807.11h4.54v2.27h-4.54zM537.76,807.11h2.27v2.27h-2.27zM544.57,807.11h2.27v2.27h-2.27zM558.19,807.11h4.54v2.27h-4.54zM503.70,809.38h2.27v2.27h-2.27zM508.24,809.38h2.27v2.27h-2.27zM512.78,809.38h2.27v2.27h-2.27zM519.59,809.38h6.81v2.27h-6.81zM530.95,809.38h9.08v2.27h-9.08zM542.30,809.38h2.27v2.27h-2.27zM546.84,809.38h2.27v2.27h-2.27zM553.65,809.38h6.81v2.27h-6.81zM562.73,809.38h2.27v2.27h-2.27zM501.43,811.65h4.54v2.27h-4.54zM512.78,811.65h2.27v2.27h-2.27zM517.32,811.65h2.27v2.27h-2.27zM524.14,811.65h6.81v2.27h-6.81zM533.22,811.65h4.54v2.27h-4.54zM542.30,811.65h6.81v2.27h-6.81zM551.38,811.65h4.54v2.27h-4.54zM558.19,811.65h6.81v2.27h-6.81zM499.16,813.92h6.81v2.27h-6.81zM508.24,813.92h2.27v2.27h-2.27zM519.59,813.92h13.62v2.27h-13.62zM535.49,813.92h2.27v2.27h-2.27zM540.03,813.92h2.27v2.27h-2.27zM544.57,813.92h2.27v2.27h-2.27zM551.38,813.92h4.54v2.27h-4.54zM562.73,813.92h2.27v2.27h-2.27zM503.70,816.19h2.27v2.27h-2.27zM517.32,816.19h9.08v2.27h-9.08zM530.95,816.19h2.27v2.27h-2.27zM540.03,816.19h2.27v2.27h-2.27zM549.11,816.19h2.27v2.27h-2.27zM562.73,816.19h2.27v2.27h-2.27zM499.16,818.46h6.81v2.27h-6.81zM508.24,818.46h9.08v2.27h-9.08zM521.86,818.46h2.27v2.27h-2.27zM526.41,818.46h6.81v2.27h-6.81zM535.49,818.46h2.27v2.27h-2.27zM542.30,818.46h2.27v2.27h-2.27zM546.84,818.46h6.81v2.27h-6.81zM558.19,818.46h2.27v2.27h-2.27zM499.16,820.73h2.27v2.27h-2.27zM503.70,820.73h2.27v2.27h-2.27zM519.59,820.73h4.54v2.27h-4.54zM526.41,820.73h4.54v2.27h-4.54zM546.84,820.73h2.27v2.27h-2.27z" fill="#555"/>
<rect x="481.00" y="739.00" width="15.89" height="15.89" fill="#555"/>
<rect x="483.27" y="741.27" width="11.35" height="11.35" fill="#fff"/>
<rect x="485.54" y="743.54" width="6.81" height="6.81" fill="#555"/>
<rect x="549.11" y="739.00" width="15.89" height="15.89" fill="#555"/>
<rect x="551.38" y="741.27" width="11.35" height="11.35" fill="#fff"/>
<rect x="553.65" y="743.54" width="6.81" height="6.81" fill="#555"/>
<rect x="481.00" y="807.11" width="15.89" height="15.89" fill="#555"/>
<rect x="483.27" y="809.38" width="11.35" height="11.35" fill="#fff"/>
<rect x="485.54" y="811.65" width="6.81" height="6.81" fill="#555"/>
<rect x="512" y="770" width="22" height="22" fill="#f55" stroke="#fff" stroke-width="1.5"/>
<g font-family="Liberation Sans, Noto Sans CJK SC, sans-serif" font-size="9px" font-weight="bold" fill="#fff"><text x="514" y="780">以观</text><text x="514" y="790">图版</text></g>
<path d="M497,832 Q525,822 572,838 Q530,827 497,832Z" fill="#f08090"/>
<text x="475" y="848" font-family="Liberation Sans, sans-serif" font-size="22px" font-weight="bold" fill="#f4828c" textLength="96" lengthAdjust="spacingAndGlyphs">6xiu.com</text>
<path shape-rendering="crispEdges" fill="#000" d="M9,37h1v20h-1zM11,37h1v20h-1zM13,37h4v20h-4zM19,37h4v20h-4zM24,37h2v20h-2zM29,37h3v20h-3zM35,37h1v20h-1zM37,37h1v20h-1zM40,37h3v20h-3zM44,37h3v20h-3zM50,37h3v20h-3zM56,37h1v20h-1zM58,37h1v20h-1zM60,37h2v20h-2zM65,37h2v20h-2zM68,37h1v20h-1zM70,37h2v20h-2zM75,37h3v20h-3zM81,37h3v20h-3zM85,37h2v20h-2zM88,37h1v20h-1zM91,37h4v20h-4zM96,37h2v20h-2zM101,37h3v20h-3zM107,37h1v20h-1zM109,37h1v20h-1zM112,37h1v20h-1zM114,37h1v20h-1zM116,37h4v20h-4z"/>
<g font-family="Liberation Sans, Noto Sans CJK SC, sans-serif" font-size="9px" fill="#000" stroke="#000" stroke-width="0.2">
<text x="7" y="18.5" font-size="16px" font-weight="bold">生产作业图</text>
<text x="7" y="33" >Wilcom(<tspan font-size="10px" stroke="none">汇京</tspan>)<tspan font-size="10px" stroke="none"> 装饰工作室</tspan></text>
<text x="7" y="71" ><tspan font-size="10px" stroke="none">花版</tspan>:</text>
<text x="36" y="71" >MBpbg.EMB</text>
<text x="7" y="84" ><tspan font-size="10px" stroke="none">色位</tspan>:</text>
<text x="36" y="84" >Colorway 1</text>
<text x="542.5" y="15.0" ><tspan font-size="10px" stroke="none">针迹</tspan>:</text>
<text x="571" y="15.0" >55478</text>
<text x="542.5" y="28.3" ><tspan font-size="10px" stroke="none">颜色</tspan>:</text>
<text x="571" y="28.3" >6</text>
<text x="542.5" y="41.6" ><tspan font-size="10px" stroke="none">高度</tspan>:</text>
<text x="571" y="41.6" >711.6 mm</text>
<text x="542.5" y="54.9" ><tspan font-size="10px" stroke="none">宽度</tspan>:</text>
<text x="571" y="54.9" >419.0 mm</text>
<text x="542.5" y="68.2" ><tspan font-size="10px" stroke="none">比例</tspan>:</text>
<text x="571" y="68.2" >0.32</text>
<text x="414" y="98.5" ><tspan font-size="10px" stroke="none">停止顺序</tspan> :</text>
<text x="414" y="111" font-weight="bold">#</text>
<text x="427.5" y="111" font-weight="bold">N#</text>
<text x="469.5" y="111" font-weight="bold">St.</text>
<text x="486" y="111" font-weight="bold"><tspan font-size="10.5px" stroke="none">代码</tspan></text>
<text x="513.5" y="111" font-weight="bold"><tspan font-size="10.5px" stroke="none">描述</tspan></text>
<text x="561.5" y="111" font-weight="bold" textLength="28">Brand</text>
<text x="593.5" y="111" font-weight="bold"><tspan font-size="10.5px" stroke="none">元素</tspan></text>
<g shape-rendering="crispEdges"><rect x="414" y="113" width="5" height="1" fill="#000"/><rect x="427" y="113" width="13" height="1" fill="#000"/><rect x="469" y="113" width="13" height="1" fill="#000"/><rect x="486" y="113" width="22" height="1" fill="#000"/><rect x="513" y="113" width="22" height="1" fill="#000"/><rect x="561" y="113" width="29" height="1" fill="#000"/><rect x="593" y="113" width="22" height="1" fill="#000"/></g>
<text x="414.5" y="125.0" >1.</text>
<text x="427.5" y="125.0" >1</text>
<rect x="443.5" y="115.5" width="10" height="9" fill="#00ff00" stroke="#000" stroke-width="1" shape-rendering="crispEdges"/>
<text x="481.5" y="125.0" text-anchor="end">2923</text>
<text x="513.5" y="125.0" >Thread #1</text>
<text x="414.5" y="138.2" >2.</text>
<text x="427.5" y="138.2" >2</text>
<rect x="443.5" y="128.7" width="10" height="9" fill="#0000ff" stroke="#000" stroke-width="1" shape-rendering="crispEdges"/>
<text x="481.5" y="138.2" text-anchor="end">4903</text>
<text x="513.5" y="138.2" >Thread #2</text>
<text x="414.5" y="151.4" >3.</text>
<text x="427.5" y="151.4" >3</text>
<rect x="443.5" y="141.9" width="10" height="9" fill="#ff0000" stroke="#000" stroke-width="1" shape-rendering="crispEdges"/>
<text x="481.5" y="151.4" text-anchor="end">23771</text>
<text x="513.5" y="151.4" >Thread #3</text>
<text x="414.5" y="164.6" >4.</text>
<text x="427.5" y="164.6" >4</text>
<rect x="443.5" y="155.1" width="10" height="9" fill="#ffff00" stroke="#000" stroke-width="1" shape-rendering="crispEdges"/>
<text x="481.5" y="164.6" text-anchor="end">4943</text>
<text x="513.5" y="164.6" >Thread #4</text>
<text x="414.5" y="177.8" >5.</text>
<text x="427.5" y="177.8" >5</text>
<rect x="443.5" y="168.3" width="10" height="9" fill="#00ffff" stroke="#000" stroke-width="1" shape-rendering="crispEdges"/>
<text x="481.5" y="177.8" text-anchor="end">4660</text>
<text x="513.5" y="177.8" >Thread #5</text>
<text x="414.5" y="191.0" >6.</text>
<text x="427.5" y="191.0" >6</text>
<rect x="443.5" y="181.5" width="10" height="9" fill="#ff00ff" stroke="#000" stroke-width="1" shape-rendering="crispEdges"/>
<text x="481.5" y="191.0" text-anchor="end">14276</text>
<text x="513.5" y="191.0" >Thread #6</text>
</g>
</svg>
</body></html>
